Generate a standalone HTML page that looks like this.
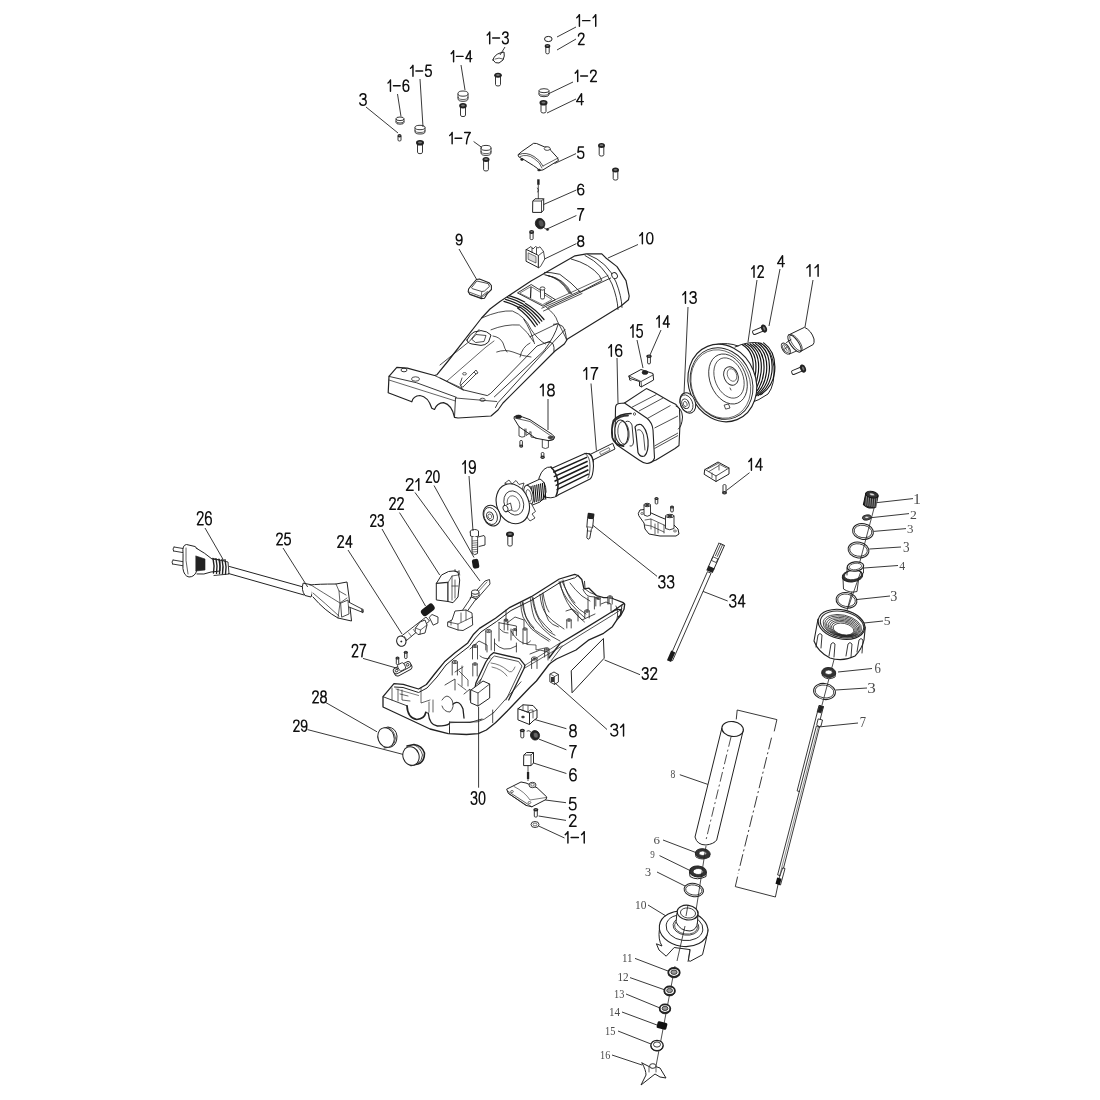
<!DOCTYPE html><html><head><meta charset="utf-8"><style>html,body{margin:0;padding:0;background:#fff;}svg{display:block}</style></head><body>
<svg width="1100" height="1100" viewBox="0 0 1100 1100">
<rect width="1100" height="1100" fill="#fff"/>
<path d="M396.0,118.8 L396.0,122.4 A4.0,1.8 0 0 0 404.0,122.4 L404.0,118.8" fill="#fff" stroke="#222" stroke-width="0.9"/>
<ellipse cx="400.0" cy="118.8" rx="4.0" ry="1.8" fill="#fff" stroke="#222" stroke-width="0.9"/>
<path d="M396.0,121.1 A4.0,1.8 0 0 0 404.0,121.1" fill="none" stroke="#222" stroke-width="0.7"/>
<g>
<path d="M398.0,136.1 L398.0,140.1 A1.5,0.9 0 0 0 401.0,140.1 L401.0,136.1" fill="#fff" stroke="#222" stroke-width="0.9"/>
<ellipse cx="399.5" cy="135.8" rx="2.0" ry="1.8" fill="#222"/>
<ellipse cx="399.5" cy="135.6" rx="1.0" ry="0.6" fill="#777"/>
</g>
<path d="M415.0,127.5 L415.0,131.8 A5.0,2.2 0 0 0 425.0,131.8 L425.0,127.5" fill="#fff" stroke="#222" stroke-width="0.9"/>
<ellipse cx="420.0" cy="127.5" rx="5.0" ry="2.2" fill="#fff" stroke="#222" stroke-width="0.9"/>
<path d="M415.0,130.3 A5.0,2.2 0 0 0 425.0,130.3" fill="none" stroke="#222" stroke-width="0.7"/>
<g>
<path d="M417.5,143.3 L417.5,152.2 A2.5,1.5 0 0 0 422.5,152.2 L422.5,143.3" fill="#fff" stroke="#222" stroke-width="0.9"/>
<ellipse cx="420" cy="142.8" rx="4.0" ry="2.8" fill="#222"/>
<ellipse cx="420" cy="142.5" rx="2.0" ry="1.0" fill="#777"/>
</g>
<path d="M458.0,93.6 L458.0,98.7 A5.0,2.6 0 0 0 468.0,98.7 L468.0,93.6" fill="#fff" stroke="#222" stroke-width="0.9"/>
<ellipse cx="463.0" cy="93.6" rx="5.0" ry="2.6" fill="#fff" stroke="#222" stroke-width="0.9"/>
<path d="M458.0,96.9 A5.0,2.6 0 0 0 468.0,96.9" fill="none" stroke="#222" stroke-width="0.7"/>
<g>
<path d="M460.5,106.2 L460.5,115.1 A2.5,1.5 0 0 0 465.5,115.1 L465.5,106.2" fill="#fff" stroke="#222" stroke-width="0.9"/>
<ellipse cx="463" cy="105.7" rx="3.8" ry="2.7" fill="#222"/>
<ellipse cx="463" cy="105.4" rx="1.9" ry="1.0" fill="#777"/>
</g>
<path d="M493,60 Q494,55 500,53 L504,52 Q505,56 503,60 L499,63 Q495,64 493,60 Z" fill="#fff" stroke="#222" stroke-width="1.0" stroke-linejoin="round" stroke-linecap="round" />
<path d="M495,59 Q499,57 503,59" fill="none" stroke="#222" stroke-width="0.7" stroke-linejoin="round" stroke-linecap="round" />
<g>
<path d="M495.5,75.7 L495.5,84.5 A2.5,1.5 0 0 0 500.5,84.5 L500.5,75.7" fill="#fff" stroke="#222" stroke-width="0.9"/>
<ellipse cx="498" cy="75.2" rx="3.8" ry="2.5" fill="#222"/>
<ellipse cx="498" cy="75.0" rx="1.9" ry="0.9" fill="#777"/>
</g>
<path d="M481.0,147.9 L481.0,152.9 A5.0,2.5 0 0 0 491.0,152.9 L491.0,147.9" fill="#fff" stroke="#222" stroke-width="0.9"/>
<ellipse cx="486.0" cy="147.9" rx="5.0" ry="2.5" fill="#fff" stroke="#222" stroke-width="0.9"/>
<path d="M481.0,151.1 A5.0,2.5 0 0 0 491.0,151.1" fill="none" stroke="#222" stroke-width="0.7"/>
<g>
<path d="M483.6,160.0 L483.6,169.6 A2.4,1.4 0 0 0 488.4,169.6 L488.4,160.0" fill="#fff" stroke="#222" stroke-width="0.9"/>
<ellipse cx="486" cy="159.5" rx="3.5" ry="2.5" fill="#222"/>
<ellipse cx="486" cy="159.2" rx="1.8" ry="0.9" fill="#777"/>
</g>
<ellipse cx="548.3" cy="39.0" rx="3.8" ry="2.6" transform="rotate(0 548.3 39.0)" fill="#fff" stroke="#222" stroke-width="1.0"/>
<g>
<path d="M545.8,46.4 L545.8,52.8 A1.7,1.0 0 0 0 549.2,52.8 L549.2,46.4" fill="#fff" stroke="#222" stroke-width="0.9"/>
<ellipse cx="547.5" cy="46.0" rx="2.8" ry="2.0" fill="#222"/>
<ellipse cx="547.5" cy="45.8" rx="1.4" ry="0.7" fill="#777"/>
</g>
<path d="M539.0,90.7 L539.0,94.7 A5.0,2.0 0 0 0 549.0,94.7 L549.0,90.7" fill="#fff" stroke="#222" stroke-width="0.9"/>
<ellipse cx="544.0" cy="90.7" rx="5.0" ry="2.0" fill="#fff" stroke="#222" stroke-width="0.9"/>
<path d="M539.0,93.3 A5.0,2.0 0 0 0 549.0,93.3" fill="none" stroke="#222" stroke-width="0.7"/>
<g>
<path d="M541.0,103.3 L541.0,111.5 A2.5,1.5 0 0 0 546.0,111.5 L546.0,103.3" fill="#fff" stroke="#222" stroke-width="0.9"/>
<ellipse cx="543.5" cy="102.8" rx="4.0" ry="2.8" fill="#222"/>
<ellipse cx="543.5" cy="102.5" rx="2.0" ry="1.0" fill="#777"/>
</g>
<g>
<path d="M599.2,146.0 L599.2,154.7 A2.3,1.4 0 0 0 603.8,154.7 L603.8,146.0" fill="#fff" stroke="#222" stroke-width="0.9"/>
<ellipse cx="601.5" cy="145.5" rx="3.5" ry="2.5" fill="#222"/>
<ellipse cx="601.5" cy="145.2" rx="1.8" ry="0.9" fill="#777"/>
</g>
<g>
<path d="M613.2,170.5 L613.2,178.7 A2.3,1.4 0 0 0 617.8,178.7 L617.8,170.5" fill="#fff" stroke="#222" stroke-width="0.9"/>
<ellipse cx="615.5" cy="170.0" rx="3.5" ry="2.5" fill="#222"/>
<ellipse cx="615.5" cy="169.8" rx="1.8" ry="0.9" fill="#777"/>
</g>
<path d="M396.8,367.3 L407.3,368.2 L434.5,375.5 L437,374.7 L448.5,360.5 L481.6,318 L490,309 L500,301.5 L531,281 L575,255.8 L586.5,253.9 L601.8,253.9 L605.6,257.7 L617,266.6 L626,280.6 L629.2,296 L628.5,299.7 L621,306 L567.5,339 L564.3,344 L555,351 L503,403 L498,410 L491,416 L458,418 L454.5,417.3 Q452,405 443.6,402.7 Q437,403 434.5,409.5 L431.8,408.2 Q428,396.5 420,395.5 Q413,396 411.8,401.8 L388.2,392.7 L389,376.4 Z" fill="#fff" stroke="#222" stroke-width="1.2" stroke-linejoin="round" stroke-linecap="round" />
<path d="M587.8,254.5 Q608,262 616,282 Q621.5,296 622,307.4" fill="none" stroke="#222" stroke-width="0.9" stroke-linejoin="round" stroke-linecap="round" />
<path d="M585,255.5 Q604,265 612,284 Q617.5,298 618,309.5" fill="none" stroke="#222" stroke-width="0.9" stroke-linejoin="round" stroke-linecap="round" />
<ellipse cx="614.6" cy="275.6" rx="2.6" ry="3.2" transform="rotate(-30 614.6 275.6)" fill="#fff" stroke="#222" stroke-width="0.9"/>
<path d="M571.3,259 Q590,264 599.3,275.5 L601.8,280.6 L580.2,292 Q572,283 559.8,274.3 Q550,272 544.5,272.4" fill="none" stroke="#222" stroke-width="0.9" stroke-linejoin="round" stroke-linecap="round" />
<path d="M548,307.4 L610.7,278" fill="none" stroke="#222" stroke-width="0.9" stroke-linejoin="round" stroke-linecap="round" />
<path d="M546,304 L608,275.5" fill="none" stroke="#222" stroke-width="0.7" stroke-linejoin="round" stroke-linecap="round" />
<path d="M544.0,274.5 Q560.0,277.0 569.0,293.0" fill="none" stroke="#222" stroke-width="0.7" stroke-linejoin="round" stroke-linecap="round" />
<path d="M545.6,274.98 Q561.6,277.48 569.96,293.32" fill="none" stroke="#222" stroke-width="0.7" stroke-linejoin="round" stroke-linecap="round" />
<path d="M547.2,275.46 Q563.2,277.96 570.92,293.64" fill="none" stroke="#222" stroke-width="0.7" stroke-linejoin="round" stroke-linecap="round" />
<path d="M548.8,275.94 Q564.8,278.44 571.88,293.96" fill="none" stroke="#222" stroke-width="0.7" stroke-linejoin="round" stroke-linecap="round" />
<path d="M517.8,292.7 L531.2,284.5 L555.4,299.7 L543.3,306.0 Z" fill="none" stroke="#222" stroke-width="0.9" stroke-linejoin="round" stroke-linecap="round" />
<path d="M520.0,293.0 L531.0,286.5 L552.0,299.5 L543.0,304.5 Z" fill="none" stroke="#222" stroke-width="0.6" stroke-linejoin="round" stroke-linecap="round" />
<line x1="531.0" y1="287.0" x2="530.5" y2="298.0" stroke="#222" stroke-width="1.2"/>
<rect x="540.5" y="288" width="4" height="11" rx="1.5" fill="#fff" stroke="#222" stroke-width="0.8"/>
<ellipse cx="542.5" cy="288.5" rx="2.5" ry="1.6" transform="rotate(0 542.5 288.5)" fill="#fff" stroke="#222" stroke-width="0.8"/>
<path d="M509.0,295.6 Q517.0,297.8 524.7,302.0" fill="none" stroke="#1a1a1a" stroke-width="1.25" stroke-linejoin="round" stroke-linecap="round" />
<path d="M507.3,297.5 Q515.2,299.7 522.9,303.9" fill="none" stroke="#1a1a1a" stroke-width="1.25" stroke-linejoin="round" stroke-linecap="round" />
<path d="M505.6,299.4 Q513.5,301.6 521.1,305.7" fill="none" stroke="#1a1a1a" stroke-width="1.25" stroke-linejoin="round" stroke-linecap="round" />
<path d="M503.9,301.3 Q511.8,303.5 519.3,307.6" fill="none" stroke="#1a1a1a" stroke-width="1.25" stroke-linejoin="round" stroke-linecap="round" />
<path d="M525.6,303.5 Q536.0,309.5 544.0,319.5" fill="none" stroke="#1a1a1a" stroke-width="1.25" stroke-linejoin="round" stroke-linecap="round" />
<path d="M523.6,304.6 Q533.9,310.8 541.8,321.2" fill="none" stroke="#1a1a1a" stroke-width="1.25" stroke-linejoin="round" stroke-linecap="round" />
<path d="M521.6,305.7 Q531.8,312.1 539.6,323.0" fill="none" stroke="#1a1a1a" stroke-width="1.25" stroke-linejoin="round" stroke-linecap="round" />
<path d="M519.6,306.8 Q529.7,313.4 537.4,324.8" fill="none" stroke="#1a1a1a" stroke-width="1.25" stroke-linejoin="round" stroke-linecap="round" />
<path d="M517.6,307.9 Q527.6,314.7 535.2,326.5" fill="none" stroke="#1a1a1a" stroke-width="1.25" stroke-linejoin="round" stroke-linecap="round" />
<path d="M541.8,308.2 L580,291 M543.5,311 L582,293.5" fill="none" stroke="#222" stroke-width="0.8" stroke-linejoin="round" stroke-linecap="round" />
<path d="M523.6,319 Q531,330 534.5,343.6 M546.4,307.3 Q556,315 557.3,321 Q562,330 566.4,339" fill="none" stroke="#222" stroke-width="0.8" stroke-linejoin="round" stroke-linecap="round" />
<path d="M565,329.5 L546.4,349.5 L498,402.7 L495.5,407.5" fill="none" stroke="#222" stroke-width="0.9" stroke-linejoin="round" stroke-linecap="round" />
<path d="M558,324.7 Q555,336 544,350.7 L494.4,396.8" fill="none" stroke="#222" stroke-width="0.9" stroke-linejoin="round" stroke-linecap="round" />
<path d="M550,341.3 L537,346 L490.8,393.3 L487.3,395.6 L462.5,389.7 L440,378" fill="none" stroke="#222" stroke-width="0.9" stroke-linejoin="round" stroke-linecap="round" />
<path d="M462.5,389.7 L460,384 L462,378" fill="none" stroke="#222" stroke-width="0.8" stroke-linejoin="round" stroke-linecap="round" />
<path d="M496.7,352 Q505,349 513,352 L522.7,355.5 L531,357" fill="none" stroke="#222" stroke-width="0.8" stroke-linejoin="round" stroke-linecap="round" />
<path d="M553.5,324.2 Q558,322.5 562.7,326.4 Q566,331 566.5,340.5" fill="none" stroke="#222" stroke-width="0.9" stroke-linejoin="round" stroke-linecap="round" />
<path d="M545.8,342.7 Q550.2,340.5 553,343.8 Q554.5,347 554,351.5" fill="none" stroke="#222" stroke-width="0.9" stroke-linejoin="round" stroke-linecap="round" />
<path d="M530,336.7 L557.3,323.6" fill="none" stroke="#222" stroke-width="0.8" stroke-linejoin="round" stroke-linecap="round" />
<path d="M455.4,398 L496.7,401.5" fill="none" stroke="#222" stroke-width="0.8" stroke-linejoin="round" stroke-linecap="round" />
<path d="M440,365 L469.5,341.3 L479,329.5" fill="none" stroke="#222" stroke-width="0.8" stroke-linejoin="round" stroke-linecap="round" />
<path d="M447,381 L486,347 L494,341" fill="none" stroke="#222" stroke-width="0.7" stroke-linejoin="round" stroke-linecap="round" />
<path d="M481.6,318 Q500,310 512.4,311 Q525,316 531.3,329.8 Q538,340 545.5,344" fill="none" stroke="#222" stroke-width="0.8" stroke-linejoin="round" stroke-linecap="round" />
<path d="M491,329.8 Q505,324 519.4,325 Q528,332 533.6,341.7" fill="none" stroke="#222" stroke-width="0.8" stroke-linejoin="round" stroke-linecap="round" />
<path d="M493,336 Q500,337 503,343 Q505,350 507,352" fill="none" stroke="#222" stroke-width="0.8" stroke-linejoin="round" stroke-linecap="round" />
<path d="M520,357 Q522,347 530,343" fill="none" stroke="#222" stroke-width="0.8" stroke-linejoin="round" stroke-linecap="round" />
<path d="M467,340 Q470,334 474,332 L481,330.6 Q487,331 491,335 L488.5,342 Q485,345.5 481,345.4 L472,344 Q467,343 467,340 Z" fill="none" stroke="#222" stroke-width="1.0" stroke-linejoin="round" stroke-linecap="round" />
<path d="M472,339 L476,334.5 L486,335.5 L484,341.5 L476,342.5 Z" fill="none" stroke="#222" stroke-width="0.8" stroke-linejoin="round" stroke-linecap="round" />
<ellipse cx="482.5" cy="399.8" rx="2.6" ry="1.6" transform="rotate(0 482.5 399.8)" fill="none" stroke="#222" stroke-width="0.8"/>
<ellipse cx="464.5" cy="373.8" rx="2.0" ry="1.2" transform="rotate(0 464.5 373.8)" fill="none" stroke="#222" stroke-width="0.7"/>
<path d="M389,376.4 L416.4,382.7 L456.4,397.3" fill="none" stroke="#222" stroke-width="0.9" stroke-linejoin="round" stroke-linecap="round" />
<path d="M389,380 L455.5,401" fill="none" stroke="#222" stroke-width="0.7" stroke-linejoin="round" stroke-linecap="round" />
<path d="M455.5,398 L454.5,417.3" fill="none" stroke="#222" stroke-width="0.9" stroke-linejoin="round" stroke-linecap="round" />
<path d="M434.5,375.5 L460,387.3 L463.6,390" fill="none" stroke="#222" stroke-width="0.8" stroke-linejoin="round" stroke-linecap="round" />
<ellipse cx="404.0" cy="370.0" rx="3.0" ry="1.8" transform="rotate(0 404.0 370.0)" fill="none" stroke="#222" stroke-width="0.9"/>
<ellipse cx="415.5" cy="379.0" rx="4.0" ry="2.2" transform="rotate(0 415.5 379.0)" fill="none" stroke="#222" stroke-width="0.8"/>
<path d="M461,385 L474,372 L476,374 L463,387 Z" fill="none" stroke="#222" stroke-width="0.8" stroke-linejoin="round" stroke-linecap="round" />
<path d="M474,372 L476,370 L478,373 L476,374" fill="none" stroke="#222" stroke-width="0.8" stroke-linejoin="round" stroke-linecap="round" />
<path d="M518.3,154.5 L521.8,151.5 L533.6,143.3 L536.6,143.5 L544.3,146.8 L549.0,147.4 L550.8,150.4 L557.3,157.5 L558.5,160.4 L543.0,169.9 L539.5,170.5 L537.8,168.7 L533.6,165.7 L524.2,159.8 L521.8,158.6 L518.9,156.9 Z" fill="#fff" stroke="#222" stroke-width="1.0" stroke-linejoin="round" stroke-linecap="round" />
<path d="M519,154.5 Q526,151.5 534,156.5 Q540,160 543,166" fill="none" stroke="#222" stroke-width="0.8" stroke-linejoin="round" stroke-linecap="round" />
<path d="M520,156.5 Q527,153.5 534,158.5 Q540,162 542,168" fill="none" stroke="#222" stroke-width="0.7" stroke-linejoin="round" stroke-linecap="round" />
<path d="M543,166 L558,158" fill="none" stroke="#222" stroke-width="0.7" stroke-linejoin="round" stroke-linecap="round" />
<ellipse cx="547.2" cy="148.6" rx="3.0" ry="1.8" transform="rotate(0 547.2 148.6)" fill="#fff" stroke="#222" stroke-width="0.8"/>
<ellipse cx="522.0" cy="159.5" rx="1.5" ry="1.0" transform="rotate(0 522.0 159.5)" fill="#222" stroke="#222" stroke-width="0.5"/>
<ellipse cx="539.0" cy="170.0" rx="1.5" ry="1.0" transform="rotate(0 539.0 170.0)" fill="#222" stroke="#222" stroke-width="0.5"/>
<path d="M533.0,201.0 L535.0,198.8 L543.7,198.8 L543.7,210.0 L541.5,212.4 L533.0,212.4 Z" fill="#fff" stroke="#222" stroke-width="1.0" stroke-linejoin="round" stroke-linecap="round" />
<path d="M533,201 L541.5,201 L543.7,198.8 M541.5,201 L541.5,212.4" fill="none" stroke="#222" stroke-width="0.8" stroke-linejoin="round" stroke-linecap="round" />
<line x1="538.3" y1="184.5" x2="538.3" y2="199.0" stroke="#222" stroke-width="0.8"/>
<rect x="537.2" y="179.3" width="2.4" height="5.5" fill="#222"/>
<path d="M537.5,188 Q539.5,190 537.8,192" fill="none" stroke="#222" stroke-width="0.8" stroke-linejoin="round" stroke-linecap="round" />
<ellipse cx="540.1" cy="223.6" rx="4.7" ry="5.3" transform="rotate(-20 540.1 223.6)" fill="#222" stroke="#222" stroke-width="0.8"/>
<ellipse cx="541.2" cy="223.4" rx="2.6" ry="3.6" transform="rotate(-20 541.2 223.4)" fill="#555" stroke="#222" stroke-width="0.5"/>
<path d="M543,227 Q545,229 547.8,229.5" fill="none" stroke="#222" stroke-width="0.9" stroke-linejoin="round" stroke-linecap="round" />
<ellipse cx="547.5" cy="229.5" rx="1.2" ry="1.0" transform="rotate(0 547.5 229.5)" fill="#222" stroke="#222" stroke-width="0.5"/>
<g>
<path d="M530.1,232.4 L530.1,238.7 A1.5,0.9 0 0 0 533.1,238.7 L533.1,232.4" fill="#fff" stroke="#222" stroke-width="0.9"/>
<ellipse cx="531.6" cy="232.0" rx="2.5" ry="2.0" fill="#222"/>
<ellipse cx="531.6" cy="231.8" rx="1.2" ry="0.7" fill="#777"/>
</g>
<path d="M526.4,249.5 L538.6,255.5 L538.6,267.7 L526.4,261.4 Z" fill="#fff" stroke="#222" stroke-width="1.0" stroke-linejoin="round" stroke-linecap="round" />
<path d="M538.6,255.5 L543.5,251.5 L544.8,259.0 L540.5,266.5 L538.6,267.7 Z" fill="#fff" stroke="#222" stroke-width="0.8" stroke-linejoin="round" stroke-linecap="round" />
<path d="M526.4,249.5 L531,246.5 L533,249 L535.5,246.5 L538,248 L540,246.8 L543.5,251.5 M532,248 L532,252.5 M536.5,248 L536.5,254" fill="none" stroke="#222" stroke-width="0.8" stroke-linejoin="round" stroke-linecap="round" />
<path d="M528.5,253 L536,256.5 L536,263 L528.5,259.5 Z" fill="#999" stroke="#222" stroke-width="0.6" stroke-linejoin="round" stroke-linecap="round" fill-opacity="0.35"/>
<path d="M468.6,289.0 L470.9,286.0 L476.4,279.5 L479.5,279.0 L489.0,282.7 L491.4,285.5 L491.4,289.5 L487.3,293.6 L484.5,298.2 L481.0,298.6 L470.0,294.5 L468.2,291.8 Z" fill="#fff" stroke="#222" stroke-width="1.1" stroke-linejoin="round" stroke-linecap="round" />
<path d="M471.8,287.3 L476.8,281.0 L488.2,283.6 L489.5,286.4 L484.5,291.0 L481.8,291.5 L472.7,288.8 Z" fill="none" stroke="#222" stroke-width="0.8" stroke-linejoin="round" stroke-linecap="round" />
<path d="M469,292 L481,296.5 L487.5,291.5 M469.5,294 L481,298 L488,292.5" fill="none" stroke="#222" stroke-width="0.7" stroke-linejoin="round" stroke-linecap="round" />
<line x1="481.8" y1="291.5" x2="481.0" y2="298.2" stroke="#222" stroke-width="0.7"/>
<path d="M735,347 Q748,341 760,343 Q772,348 774,367 Q775,385 768,394 Q760,400 748,404" fill="#fff" stroke="#222" stroke-width="1.0" stroke-linejoin="round" stroke-linecap="round" />
<path d="M742.0,344.5 Q755.0,352.0 753.0,372.0 Q751.0,392.0 739.0,402.0" fill="none" stroke="#111" stroke-width="1.15" stroke-linejoin="round" stroke-linecap="round" />
<path d="M744.7,344.3 Q757.7,352.0 755.7,372.0 Q753.7,391.4 741.7,401.1" fill="none" stroke="#111" stroke-width="1.15" stroke-linejoin="round" stroke-linecap="round" />
<path d="M747.4,344.1 Q760.4,352.0 758.4,372.0 Q756.4,390.8 744.4,400.2" fill="none" stroke="#111" stroke-width="1.15" stroke-linejoin="round" stroke-linecap="round" />
<path d="M750.1,343.9 Q763.1,352.0 761.1,372.0 Q759.1,390.2 747.1,399.3" fill="none" stroke="#111" stroke-width="1.15" stroke-linejoin="round" stroke-linecap="round" />
<path d="M752.8,343.7 Q765.8,352.0 763.8,372.0 Q761.8,389.6 749.8,398.4" fill="none" stroke="#111" stroke-width="1.15" stroke-linejoin="round" stroke-linecap="round" />
<path d="M755.5,343.5 Q768.5,352.0 766.5,372.0 Q764.5,389.0 752.5,397.5" fill="none" stroke="#111" stroke-width="1.15" stroke-linejoin="round" stroke-linecap="round" />
<path d="M758.2,343.3 Q771.2,352.0 769.2,372.0 Q767.2,388.4 755.2,396.6" fill="none" stroke="#111" stroke-width="1.15" stroke-linejoin="round" stroke-linecap="round" />
<path d="M760.9,343.1 Q773.9,352.0 771.9,372.0 Q769.9,387.8 757.9,395.7" fill="none" stroke="#111" stroke-width="1.15" stroke-linejoin="round" stroke-linecap="round" />
<path d="M763.6,342.9 Q776.6,352.0 774.6,372.0 Q772.6,387.2 760.6,394.8" fill="none" stroke="#111" stroke-width="1.15" stroke-linejoin="round" stroke-linecap="round" />
<path d="M716,344.5 Q728,342 738,346" fill="none" stroke="#222" stroke-width="1.0" stroke-linejoin="round" stroke-linecap="round" />
<ellipse cx="722.3" cy="383.0" rx="33.5" ry="39.5" transform="rotate(-22 722.3 383.0)" fill="#fff" stroke="#222" stroke-width="1.1"/>
<ellipse cx="721.5" cy="383.5" rx="30.5" ry="36.5" transform="rotate(-22 721.5 383.5)" fill="none" stroke="#222" stroke-width="0.9"/>
<ellipse cx="720.8" cy="384.0" rx="29.0" ry="35.0" transform="rotate(-22 720.8 384.0)" fill="none" stroke="#222" stroke-width="0.6"/>
<ellipse cx="728.0" cy="379.0" rx="18.0" ry="26.0" transform="rotate(-22 728.0 379.0)" fill="none" stroke="#222" stroke-width="0.8"/>
<ellipse cx="729.0" cy="378.0" rx="14.0" ry="21.0" transform="rotate(-22 729.0 378.0)" fill="none" stroke="#222" stroke-width="0.7"/>
<ellipse cx="731.0" cy="376.0" rx="7.0" ry="9.5" transform="rotate(-22 731.0 376.0)" fill="none" stroke="#222" stroke-width="0.9"/>
<ellipse cx="732.0" cy="375.0" rx="4.5" ry="6.5" transform="rotate(-22 732.0 375.0)" fill="none" stroke="#222" stroke-width="0.6"/>
<path d="M724.5,405.0 L728.5,404.0 L730.0,408.0 L726.0,409.0 Z" fill="none" stroke="#222" stroke-width="0.8" stroke-linejoin="round" stroke-linecap="round" />
<path d="M730,388 L731,390" fill="none" stroke="#222" stroke-width="0.8" stroke-linejoin="round" stroke-linecap="round" />
<ellipse cx="687.8" cy="403.0" rx="7.5" ry="10.5" transform="rotate(-22 687.8 403.0)" fill="#fff" stroke="#222" stroke-width="1.0"/>
<ellipse cx="686.5" cy="403.5" rx="6.0" ry="9.0" transform="rotate(-22 686.5 403.5)" fill="none" stroke="#222" stroke-width="0.8"/>
<ellipse cx="685.5" cy="403.8" rx="3.5" ry="5.0" transform="rotate(-22 685.5 403.8)" fill="#fff" stroke="#222" stroke-width="0.9"/>
<ellipse cx="685.2" cy="404.0" rx="1.8" ry="2.6" transform="rotate(-22 685.2 404.0)" fill="none" stroke="#222" stroke-width="0.7"/>
<g transform="rotate(68 766.5 327.5)">
<path d="M764.4,330.8 L764.4,340.9 A2.1,1.3 0 0 0 768.6,340.9 L768.6,330.8" fill="#fff" stroke="#222" stroke-width="0.9"/>
<ellipse cx="766.5" cy="330.2" rx="4.2" ry="2.8" fill="#222"/>
<ellipse cx="766.5" cy="330.0" rx="2.1" ry="1.0" fill="#777"/>
</g>
<g transform="rotate(68 805.5 367.5)">
<path d="M803.4,370.8 L803.4,380.9 A2.1,1.3 0 0 0 807.6,380.9 L807.6,370.8" fill="#fff" stroke="#222" stroke-width="0.9"/>
<ellipse cx="805.5" cy="370.2" rx="4.2" ry="2.8" fill="#222"/>
<ellipse cx="805.5" cy="370.0" rx="2.1" ry="1.0" fill="#777"/>
</g>
<path d="M788.6,335 L804.5,327.3 Q811.4,330.5 814,339 Q814.5,343 813.2,344.5 L800.5,351.5" fill="#fff" stroke="#222" stroke-width="1.0" stroke-linejoin="round" stroke-linecap="round" />
<ellipse cx="794.5" cy="343.4" rx="3.9" ry="10.3" transform="rotate(-35 794.5 343.4)" fill="#fff" stroke="#222" stroke-width="1.0"/>
<ellipse cx="796.0" cy="342.8" rx="3.6" ry="9.6" transform="rotate(-35 796.0 342.8)" fill="none" stroke="#222" stroke-width="0.7"/>
<path d="M786.5,342.5 L791,339.5 M789.5,354 L796.5,351" fill="none" stroke="#222" stroke-width="0.9" stroke-linejoin="round" stroke-linecap="round" />
<ellipse cx="785.8" cy="348.6" rx="3.3" ry="6.3" transform="rotate(-35 785.8 348.6)" fill="#fff" stroke="#222" stroke-width="1.0"/>
<ellipse cx="785.8" cy="348.6" rx="2.2" ry="4.5" transform="rotate(-35 785.8 348.6)" fill="none" stroke="#222" stroke-width="0.7"/>
<path d="M784.5,346.5 L787,350.5 M783.8,349.5 L787.5,347" fill="none" stroke="#222" stroke-width="0.7" stroke-linejoin="round" stroke-linecap="round" />
<path d="M629.0,376.0 L641.0,369.5 L653.0,373.5 L653.6,380.0 L641.5,386.8 L639.5,386.0 L639.5,381.5 L630.0,378.5 Z" fill="#fff" stroke="#222" stroke-width="1.0" stroke-linejoin="round" stroke-linecap="round" />
<path d="M629,376 L641,381.5 L653,375 M641,381.5 L641.5,386.8" fill="none" stroke="#222" stroke-width="0.8" stroke-linejoin="round" stroke-linecap="round" />
<ellipse cx="645.0" cy="372.5" rx="3.0" ry="2.0" transform="rotate(0 645.0 372.5)" fill="#222" stroke="#222" stroke-width="0.5"/>
<path d="M629.5,377 L629.5,380 L631,380.5" fill="none" stroke="#222" stroke-width="0.8" stroke-linejoin="round" stroke-linecap="round" />
<g>
<path d="M647.6,356.7 L647.6,363.1 A1.4,0.8 0 0 0 650.4,363.1 L650.4,356.7" fill="#fff" stroke="#222" stroke-width="0.9"/>
<ellipse cx="649" cy="356.3" rx="2.8" ry="1.8" fill="#222"/>
<ellipse cx="649" cy="356.1" rx="1.4" ry="0.6" fill="#777"/>
</g>
<path d="M624.5,403.0 L646.4,388.6 L654.5,392.5 L670.0,401.5 L676.0,404.5 L679.5,409.0 L680.0,424.0 L679.0,445.5 L675.0,448.5 L656.0,460.0 L647.0,463.5" fill="#fff" stroke="#222" stroke-width="1.1" stroke-linejoin="round" stroke-linecap="round" />
<line x1="631.8" y1="407.3" x2="656.4" y2="394.5" stroke="#222" stroke-width="0.8"/>
<line x1="639.0" y1="411.0" x2="663.0" y2="398.0" stroke="#222" stroke-width="0.8"/>
<line x1="647.3" y1="418.5" x2="670.5" y2="405.5" stroke="#222" stroke-width="0.8"/>
<line x1="654.5" y1="428.0" x2="678.0" y2="416.0" stroke="#222" stroke-width="0.8"/>
<line x1="654.5" y1="446.0" x2="678.0" y2="433.0" stroke="#222" stroke-width="0.8"/>
<line x1="654.5" y1="448.5" x2="678.0" y2="435.5" stroke="#222" stroke-width="0.8"/>
<path d="M615.5,408 Q615.5,404 619,403.5 L624.5,403 L647.3,418.5 Q652.5,423 653,430 L654.5,458 Q653,463 647,463.5 Q643,463 639,460 L617,445 Q615,443 615,438 Z" fill="#fff" stroke="#222" stroke-width="1.1" stroke-linejoin="round" stroke-linecap="round" />
<path d="M631,413.5 Q619,413.5 613.5,420.5 Q611,429 612.3,437.5 Q614.5,445 623.6,446.2" fill="none" stroke="#222" stroke-width="1.7" stroke-linejoin="round" stroke-linecap="round" />
<ellipse cx="621.5" cy="432.5" rx="6.6" ry="12.6" transform="rotate(-6 621.5 432.5)" fill="#fff" stroke="#222" stroke-width="1.1"/>
<ellipse cx="623.5" cy="432.8" rx="5.6" ry="11.4" transform="rotate(-6 623.5 432.8)" fill="none" stroke="#222" stroke-width="0.7"/>
<path d="M626,421.5 Q630,420 632,425 L633.5,442 Q633,447 630,446" fill="none" stroke="#222" stroke-width="0.9" stroke-linejoin="round" stroke-linecap="round" />
<path d="M635,427 Q637,423.5 641,424.5 Q646.5,428 648,440 Q648.8,452 644.5,456 Q640,457.5 638,452.5 L636,433 Q635.5,429 635,427 Z" fill="#fff" stroke="#222" stroke-width="1.2" stroke-linejoin="round" stroke-linecap="round" />
<path d="M637.5,430 Q641,428 643.5,435 L645,450" fill="none" stroke="#222" stroke-width="0.8" stroke-linejoin="round" stroke-linecap="round" />
<ellipse cx="634.5" cy="414.0" rx="1.1" ry="1.3" transform="rotate(0 634.5 414.0)" fill="none" stroke="#222" stroke-width="0.7"/>
<path d="M614,421 Q620,415.5 628,415.5" fill="none" stroke="#333" stroke-width="1.8" stroke-linejoin="round" stroke-linecap="round" />
<path d="M676,406 Q682,408 682.5,417 Q682,426 678.5,429" fill="none" stroke="#222" stroke-width="1.0" stroke-linejoin="round" stroke-linecap="round" />
<path d="M588,455.5 L612.7,443.3 L615,449 L591,461 Z" fill="#fff" stroke="#222" stroke-width="1.0" stroke-linejoin="round" stroke-linecap="round" />
<path d="M600,452 L609,447.6 L610,450 L601,454.5 Z" fill="none" stroke="#222" stroke-width="0.6" stroke-linejoin="round" stroke-linecap="round" />
<ellipse cx="590.0" cy="458.5" rx="2.6" ry="5.2" transform="rotate(-25 590.0 458.5)" fill="#fff" stroke="#222" stroke-width="0.9"/>
<path d="M548,470 L585,453.5 Q593,452 593.5,466 Q593,477 590,479 L557,495.5" fill="#fff" stroke="#222" stroke-width="1.1" stroke-linejoin="round" stroke-linecap="round" />
<line x1="553.2" y1="472.3" x2="587.2" y2="457.1" stroke="#1a1a1a" stroke-width="1.5"/>
<line x1="553.6" y1="476.9" x2="587.6" y2="461.3" stroke="#1a1a1a" stroke-width="1.5"/>
<line x1="554.0" y1="481.5" x2="588.0" y2="465.5" stroke="#1a1a1a" stroke-width="1.5"/>
<line x1="554.4" y1="486.1" x2="588.4" y2="469.7" stroke="#1a1a1a" stroke-width="1.5"/>
<line x1="554.8" y1="490.7" x2="588.8" y2="473.9" stroke="#1a1a1a" stroke-width="1.5"/>
<path d="M585,453.5 Q590,456 590,466 Q590,475 588,478" fill="none" stroke="#222" stroke-width="0.8" stroke-linejoin="round" stroke-linecap="round" />
<path d="M551,467 Q543,466 539,478 Q537,490 543,496 Q551,500 558,495.5" fill="#fff" stroke="#222" stroke-width="1.0" stroke-linejoin="round" stroke-linecap="round" />
<path d="M551,467 Q558,474 558,485 Q558,492 556,496" fill="none" stroke="#222" stroke-width="1.6" stroke-linejoin="round" stroke-linecap="round" />
<path d="M527,485 L540,479 Q546,482 546,492 Q545,499 540,502 L530,506" fill="#fff" stroke="#222" stroke-width="1.0" stroke-linejoin="round" stroke-linecap="round" />
<line x1="531.0" y1="486.0" x2="532.5" y2="503.0" stroke="#111" stroke-width="1.1"/>
<line x1="532.9" y1="485.5" x2="534.4" y2="502.5" stroke="#111" stroke-width="1.1"/>
<line x1="534.8" y1="485.0" x2="536.3" y2="502.0" stroke="#111" stroke-width="1.1"/>
<line x1="536.7" y1="484.5" x2="538.2" y2="501.5" stroke="#111" stroke-width="1.1"/>
<line x1="538.6" y1="484.0" x2="540.1" y2="501.0" stroke="#111" stroke-width="1.1"/>
<line x1="540.5" y1="483.5" x2="542.0" y2="500.5" stroke="#111" stroke-width="1.1"/>
<line x1="542.4" y1="483.0" x2="543.9" y2="500.0" stroke="#111" stroke-width="1.1"/>
<line x1="544.3" y1="482.5" x2="545.8" y2="499.5" stroke="#111" stroke-width="1.1"/>
<ellipse cx="528.5" cy="495.0" rx="4.5" ry="10.0" transform="rotate(-12 528.5 495.0)" fill="#fff" stroke="#222" stroke-width="1.0"/>
<ellipse cx="528.8" cy="495.5" rx="2.5" ry="6.0" transform="rotate(-12 528.8 495.5)" fill="none" stroke="#222" stroke-width="0.7"/>
<path d="M505.0,483.0 L509.0,480.0 L512.0,484.0 L516.0,480.5 L519.0,484.5 L524.0,483.0 L522.0,490.0 Z" fill="#fff" stroke="#222" stroke-width="0.8" stroke-linejoin="round" stroke-linecap="round" />
<path d="M526.0,505.0 L531.0,503.0 L535.5,511.5 L532.0,514.0 L535.0,518.0 L530.0,521.0 L526.0,516.0 Z" fill="#fff" stroke="#222" stroke-width="0.8" stroke-linejoin="round" stroke-linecap="round" />
<ellipse cx="512.8" cy="503.8" rx="16.0" ry="20.5" transform="rotate(-22 512.8 503.8)" fill="#fff" stroke="#222" stroke-width="1.1"/>
<ellipse cx="513.8" cy="503.0" rx="9.5" ry="12.5" transform="rotate(-22 513.8 503.0)" fill="none" stroke="#222" stroke-width="0.8"/>
<ellipse cx="513.5" cy="503.5" rx="6.0" ry="8.0" transform="rotate(-22 513.5 503.5)" fill="none" stroke="#222" stroke-width="0.6"/>
<path d="M504.5,506 L510.5,503 L512,509.5 L506,512 Z" fill="#fff" stroke="#222" stroke-width="0.8" stroke-linejoin="round" stroke-linecap="round" />
<ellipse cx="505.5" cy="508.5" rx="2.3" ry="3.2" transform="rotate(-22 505.5 508.5)" fill="#fff" stroke="#222" stroke-width="0.9"/>
<ellipse cx="491.8" cy="515.6" rx="8.3" ry="10.6" transform="rotate(-22 491.8 515.6)" fill="#fff" stroke="#222" stroke-width="1.0"/>
<ellipse cx="490.6" cy="516.0" rx="6.5" ry="8.8" transform="rotate(-22 490.6 516.0)" fill="none" stroke="#222" stroke-width="0.8"/>
<ellipse cx="490.0" cy="516.2" rx="3.3" ry="4.4" transform="rotate(-22 490.0 516.2)" fill="none" stroke="#222" stroke-width="0.9"/>
<ellipse cx="489.8" cy="516.3" rx="1.8" ry="2.4" transform="rotate(-22 489.8 516.3)" fill="none" stroke="#222" stroke-width="0.6"/>
<g>
<path d="M507.8,534.8 L507.8,544.8 A2.2,1.3 0 0 0 512.2,544.8 L512.2,534.8" fill="#fff" stroke="#222" stroke-width="0.9"/>
<ellipse cx="510" cy="534.2" rx="4.0" ry="2.8" fill="#222"/>
<ellipse cx="510" cy="534.0" rx="2.0" ry="1.0" fill="#777"/>
</g>
<path d="M514.6,416.5 L519.0,415.3 L522.3,416.9 L530.0,419.7 L552.2,434.4 L554.4,436.9 L553.5,439.5 L549.0,440.7 L535.6,438.2 L519.0,426.7 L514.3,419.0 Z" fill="#fff" stroke="#222" stroke-width="1.0" stroke-linejoin="round" stroke-linecap="round" />
<path d="M514.5,418 L519,419 L530,421.5 L551,436 L554,437" fill="none" stroke="#222" stroke-width="0.7" stroke-linejoin="round" stroke-linecap="round" />
<ellipse cx="518.5" cy="416.8" rx="3.2" ry="1.8" transform="rotate(0 518.5 416.8)" fill="#222" stroke="#222" stroke-width="0.5"/>
<ellipse cx="550.5" cy="437.6" rx="2.5" ry="1.4" transform="rotate(0 550.5 437.6)" fill="#444" stroke="#222" stroke-width="0.5"/>
<path d="M519,426.7 L519,436 Q522,438 524.8,436.5 L524.8,429 M526,429 L526,435.5 L530,433 L530,431.5 M531,432 L531,437 L536,438" fill="none" stroke="#222" stroke-width="0.8" stroke-linejoin="round" stroke-linecap="round" />
<path d="M542.3,440 L542.3,447.5 Q545.5,449.5 548.4,447.5 L548.4,440.7" fill="none" stroke="#222" stroke-width="0.8" stroke-linejoin="round" stroke-linecap="round" />
<path d="M548.4,440.7 L553.5,439.5 L554.4,437" fill="none" stroke="#222" stroke-width="0.8" stroke-linejoin="round" stroke-linecap="round" />
<g transform="rotate(180 521.2 447.7)">
<path d="M520.0,449.7 L520.0,454.1 A1.2,0.8 0 0 0 522.5,454.1 L522.5,449.7" fill="#fff" stroke="#222" stroke-width="0.9"/>
<ellipse cx="521.2" cy="449.3" rx="2.0" ry="1.6" fill="#222"/>
<ellipse cx="521.2" cy="449.2" rx="1.0" ry="0.6" fill="#777"/>
</g>
<g transform="rotate(180 542.6 459)">
<path d="M541.3,461.1 L541.3,464.7 A1.3,0.8 0 0 0 543.9,464.7 L543.9,461.1" fill="#fff" stroke="#222" stroke-width="0.9"/>
<ellipse cx="542.6" cy="460.8" rx="2.1" ry="1.8" fill="#222"/>
<ellipse cx="542.6" cy="460.6" rx="1.1" ry="0.6" fill="#777"/>
</g>
<ellipse cx="474.4" cy="532.0" rx="4.2" ry="2.5" transform="rotate(0 474.4 532.0)" fill="#fff" stroke="#222" stroke-width="0.9"/>
<path d="M470.3,532 L470.5,536 Q474.5,538.5 478.5,536 L478.5,532" fill="#fff" stroke="#222" stroke-width="0.9" stroke-linejoin="round" stroke-linecap="round" />
<path d="M472,537 L472,553 Q474.5,556 477.5,553.5 L477.8,537" fill="#fff" stroke="#222" stroke-width="0.9" stroke-linejoin="round" stroke-linecap="round" />
<line x1="472.0" y1="541.0" x2="477.8" y2="540.5" stroke="#222" stroke-width="0.6"/>
<line x1="472.0" y1="543.2" x2="477.8" y2="542.7" stroke="#222" stroke-width="0.6"/>
<line x1="472.0" y1="545.4" x2="477.8" y2="544.9" stroke="#222" stroke-width="0.6"/>
<line x1="472.0" y1="547.6" x2="477.8" y2="547.1" stroke="#222" stroke-width="0.6"/>
<line x1="472.0" y1="549.8" x2="477.8" y2="549.3" stroke="#222" stroke-width="0.6"/>
<line x1="472.0" y1="552.0" x2="477.8" y2="551.5" stroke="#222" stroke-width="0.6"/>
<path d="M478,537 L484,535.5 L485,537 L485,545 L479,546.5" fill="#fff" stroke="#222" stroke-width="0.9" stroke-linejoin="round" stroke-linecap="round" />
<g transform="rotate(-10 475.6 563.7)"><rect x="472.3" y="559" width="6.6" height="9.5" rx="2.5" fill="#1a1a1a"/></g>
<path d="M436.7,583.0 L448.0,582.6 L448.0,601.5 L436.7,600.0 Z" fill="#fff" stroke="#222" stroke-width="1.0" stroke-linejoin="round" stroke-linecap="round" />
<path d="M436.7,583.0 L441.5,575.0 L448.5,571.5 L453.5,571.0 L458.0,572.0 L459.7,580.0 L458.0,597.0 L453.0,602.7 L448.0,601.5 L448.0,582.6 Z" fill="#fff" stroke="#222" stroke-width="1.0" stroke-linejoin="round" stroke-linecap="round" />
<path d="M448,582.6 L452,576 L458,575 M452,576 L452,600 M455,580 L455,598 M452,586 L458,586" fill="none" stroke="#222" stroke-width="0.7" stroke-linejoin="round" stroke-linecap="round" />
<path d="M454,571 L455,569.5 L456.5,572 M457.5,572.5 L459,570.5 L459.7,575" fill="none" stroke="#222" stroke-width="0.7" stroke-linejoin="round" stroke-linecap="round" />
<path d="M470,598 L485,581 L489.5,579.5 L490,584 L476,600" fill="#fff" stroke="#222" stroke-width="0.9" stroke-linejoin="round" stroke-linecap="round" />
<path d="M472,598.5 L487,582" fill="none" stroke="#222" stroke-width="0.6" stroke-linejoin="round" stroke-linecap="round" />
<path d="M471.5,592.1 L471.5,596.5 A3.8,2.2 0 0 0 479.0,596.5 L479.0,592.1" fill="#fff" stroke="#222" stroke-width="0.9"/>
<ellipse cx="475.2" cy="592.1" rx="3.8" ry="2.2" fill="#fff" stroke="#222" stroke-width="0.9"/>
<path d="M471.5,594.9 A3.8,2.2 0 0 0 479.0,594.9" fill="none" stroke="#222" stroke-width="0.7"/>
<path d="M462,611 L471.5,597 L476,599 L466,613" fill="#fff" stroke="#222" stroke-width="0.9" stroke-linejoin="round" stroke-linecap="round" />
<path d="M448.0,622.0 L452.0,620.0 L455.0,611.0 L466.0,610.0 L472.0,613.0 L472.7,625.0 L463.0,630.5 L458.0,630.0 L448.0,626.5 Z" fill="#fff" stroke="#222" stroke-width="0.9" stroke-linejoin="round" stroke-linecap="round" />
<path d="M448,622 L458,624 L458,630 M458,624 L472.5,617 M451,620.5 L451,625 M461,613 L461,622 M466,610 L466,620" fill="none" stroke="#222" stroke-width="0.7" stroke-linejoin="round" stroke-linecap="round" />
<g transform="rotate(-38 427.8 609.8)"><rect x="420.5" y="606" width="14.6" height="7.6" rx="3" fill="#1a1a1a"/></g>
<path d="M399,638 L426,617 L429.5,621 L403,643.5" fill="#fff" stroke="#222" stroke-width="0.9" stroke-linejoin="round" stroke-linecap="round" />
<line x1="404.0" y1="636.0" x2="407.0" y2="640.0" stroke="#222" stroke-width="0.6"/>
<line x1="408.5" y1="632.5" x2="411.5" y2="636.5" stroke="#222" stroke-width="0.6"/>
<line x1="413.0" y1="629.0" x2="416.0" y2="633.0" stroke="#222" stroke-width="0.6"/>
<line x1="417.5" y1="625.5" x2="420.5" y2="629.5" stroke="#222" stroke-width="0.6"/>
<line x1="422.0" y1="622.0" x2="425.0" y2="626.0" stroke="#222" stroke-width="0.6"/>
<ellipse cx="401.3" cy="641.2" rx="4.6" ry="5.2" transform="rotate(-20 401.3 641.2)" fill="#fff" stroke="#222" stroke-width="1.0"/>
<ellipse cx="401.3" cy="641.5" rx="0.8" ry="0.8" transform="rotate(0 401.3 641.5)" fill="#222" stroke="#222" stroke-width="0.3"/>
<path d="M415.5,628.0 L420.0,622.0 L425.0,620.0 L427.0,625.0 L425.0,633.0 L418.0,634.6 L415.5,632.0 Z" fill="#fff" stroke="#222" stroke-width="0.9" stroke-linejoin="round" stroke-linecap="round" />
<path d="M415.5,628 L420.5,630 L427,625 M420.5,630 L420,634.4" fill="none" stroke="#222" stroke-width="0.7" stroke-linejoin="round" stroke-linecap="round" />
<path d="M429.5,617.0 L432.0,614.5 L438.0,617.0 L437.9,623.0 L433.5,625.0 Z" fill="#fff" stroke="#222" stroke-width="0.9" stroke-linejoin="round" stroke-linecap="round" />
<path d="M174,547 L186,549 M173.5,551 L185.5,553 M174,547 Q172,549 173.5,551" fill="none" stroke="#222" stroke-width="0.9" stroke-linejoin="round" stroke-linecap="round" />
<path d="M173,560 L185,562 M172.5,564 L184.5,566 M173,560 Q171,562 172.5,564" fill="none" stroke="#222" stroke-width="0.9" stroke-linejoin="round" stroke-linecap="round" />
<path d="M183,553 Q182,545 186.5,544.5 L195,546.5 Q199,549 198,556 L197,570 Q195,577 189,577 Q184,576 183,569 Z" fill="#fff" stroke="#222" stroke-width="1.0" stroke-linejoin="round" stroke-linecap="round" />
<path d="M186,548 Q185,560 188,574" fill="none" stroke="#222" stroke-width="0.7" stroke-linejoin="round" stroke-linecap="round" />
<path d="M196,548 Q205,553 212,559 L220,560 L220,571 L211,572 Q204,575 197,574" fill="#fff" stroke="#222" stroke-width="1.0" stroke-linejoin="round" stroke-linecap="round" />
<path d="M196,556 L205,559 L205,570 L196,571 Z" fill="#222" stroke="#222" stroke-width="0.6" stroke-linejoin="round" stroke-linecap="round" />
<path d="M213,558.5 Q214.8,565.5 213.5,573.0" fill="none" stroke="#222" stroke-width="1.4" stroke-linejoin="round" stroke-linecap="round" />
<path d="M216,558.8 Q217.8,565.8 216.5,573.3" fill="none" stroke="#222" stroke-width="1.4" stroke-linejoin="round" stroke-linecap="round" />
<path d="M219,559.1 Q220.8,566.1 219.5,573.6" fill="none" stroke="#222" stroke-width="1.4" stroke-linejoin="round" stroke-linecap="round" />
<path d="M222,559.4 Q223.8,566.4 222.5,573.9" fill="none" stroke="#222" stroke-width="1.4" stroke-linejoin="round" stroke-linecap="round" />
<path d="M225,559.7 Q226.8,566.7 225.5,574.2" fill="none" stroke="#222" stroke-width="1.4" stroke-linejoin="round" stroke-linecap="round" />
<path d="M213,558.5 L228,562 L229,574 L214,575.5" fill="none" stroke="#222" stroke-width="0.9" stroke-linejoin="round" stroke-linecap="round" />
<path d="M229.5,566.5 L305,587.5 M228.5,573.5 L304,595" fill="none" stroke="#222" stroke-width="1.0" stroke-linejoin="round" stroke-linecap="round" />
<path d="M303,583.5 Q301,590 305,595.5 L311,597 Q314,590 311,585 Z" fill="#fff" stroke="#222" stroke-width="1.0" stroke-linejoin="round" stroke-linecap="round" />
<path d="M310,585 Q318,584 336,584 L347,582 L349,597 L351.5,621 L338,618 Q325,611 313,597" fill="#fff" stroke="#222" stroke-width="1.0" stroke-linejoin="round" stroke-linecap="round" />
<path d="M311,585 Q322,592 340,603 M313,593 Q325,603 339,616 M336,584 L339,591 L346,595 M339,591 L340,603 L338,618 M340,603 L347,598" fill="none" stroke="#222" stroke-width="0.7" stroke-linejoin="round" stroke-linecap="round" />
<path d="M341.0,603.0 L348.0,600.0 L349.0,614.0 L342.0,617.0 Z" fill="#fff" stroke="#222" stroke-width="0.8" stroke-linejoin="round" stroke-linecap="round" />
<path d="M348.5,602 L362,609 L363,612.5 L349,607" fill="#fff" stroke="#222" stroke-width="0.9" stroke-linejoin="round" stroke-linecap="round" />
<ellipse cx="362.5" cy="610.8" rx="1.0" ry="1.8" transform="rotate(0 362.5 610.8)" fill="none" stroke="#222" stroke-width="0.7"/>
<g transform="rotate(-28 403 669.5)">
<rect x="393.5" y="666.5" width="19" height="6.5" rx="3.2" fill="#fff" stroke="#222" stroke-width="0.9"/>
<rect x="393.5" y="664.5" width="19" height="6" rx="3" fill="#fff" stroke="#222" stroke-width="0.9"/>
<rect x="399.5" y="663" width="7" height="7" rx="2" fill="#fff" stroke="#222" stroke-width="0.8"/>
<ellipse cx="396.8" cy="667.5" rx="1.6" ry="1.2" transform="rotate(0 396.8 667.5)" fill="none" stroke="#222" stroke-width="0.8"/>
<ellipse cx="409.2" cy="667.5" rx="1.6" ry="1.2" transform="rotate(0 409.2 667.5)" fill="none" stroke="#222" stroke-width="0.8"/>
</g>
<g>
<path d="M396.3,658.4 L396.3,663.8 A1.2,0.7 0 0 0 398.7,663.8 L398.7,658.4" fill="#fff" stroke="#222" stroke-width="0.9"/>
<ellipse cx="397.5" cy="658.1" rx="2.0" ry="1.5" fill="#222"/>
<ellipse cx="397.5" cy="658.0" rx="1.0" ry="0.5" fill="#777"/>
</g>
<g>
<path d="M404.6,652.5 L404.6,657.8 A1.2,0.7 0 0 0 407.0,657.8 L407.0,652.5" fill="#fff" stroke="#222" stroke-width="0.9"/>
<ellipse cx="405.8" cy="652.2" rx="2.0" ry="1.5" fill="#222"/>
<ellipse cx="405.8" cy="652.1" rx="1.0" ry="0.5" fill="#777"/>
</g>
<path d="M381,729 L388,727 Q396,728 397,736 Q397,745 391,747 L384,748" fill="#fff" stroke="#222" stroke-width="1.0" stroke-linejoin="round" stroke-linecap="round" />
<ellipse cx="386.0" cy="737.5" rx="8.0" ry="10.0" transform="rotate(-20 386.0 737.5)" fill="#fff" stroke="#222" stroke-width="1.0"/>
<path d="M388.5,727.5 Q394,730 395.5,738 Q395,744 391.5,746.5" fill="none" stroke="#222" stroke-width="0.7" stroke-linejoin="round" stroke-linecap="round" />
<path d="M407,746 L414,744.5 Q422,745.5 424.5,753 Q424.5,762 418,764 L411,765.5" fill="#fff" stroke="#222" stroke-width="1.6" stroke-linejoin="round" stroke-linecap="round" />
<ellipse cx="411.0" cy="756.0" rx="8.0" ry="9.5" transform="rotate(-20 411.0 756.0)" fill="#fff" stroke="#222" stroke-width="1.0"/>
<path d="M414.5,745 Q421,748 422.5,755 Q422,761 418,763.5" fill="none" stroke="#222" stroke-width="0.8" stroke-linejoin="round" stroke-linecap="round" />
<path d="M383.0,696.7 L394.0,683.6 L403.2,684.4 L418.6,689.0 L426.4,684.5 L435.0,673.5 L444.5,661.8 L454.7,653.1 L467.8,642.9 L473.6,634.2 L479.5,628.4 L495.5,618.2 L510.0,607.3 L531.3,596.7 L559.3,579.0 L574.7,574.3 L578.0,575.5 L581.8,579.5 L584.0,588.9 L589.0,588.2 L596.4,595.5 L603.6,597.6 L611.0,597.6 L613.8,599.0 L623.3,602.7 L624.7,604.2 L624.0,609.3 L621.0,615.0 L616.7,620.2 L612.4,626.7 L603.6,633.3 L589.0,639.8 L576.0,650.0 L556.4,659.0 L551.0,662.7 L549.0,664.5 L536.4,681.0 L530.0,687.3 L507.3,711.0 L495.5,722.7 L486.4,730.0 L478.2,733.6 L466.4,734.5 L448.2,733.6 L430.0,729.0 L383.0,707.0 Z" fill="#fff" stroke="#222" stroke-width="1.3" stroke-linejoin="round" stroke-linecap="round" />
<path d="M394.5,687 L403,687.5 L418.6,692.5 L427,688 L437,677 L446,665 L456,656.5 L469,646.5 L475.5,638 L481,632 L496.5,621.5 L511,610.5 L532,600 L560,582.5 L574,578" fill="none" stroke="#222" stroke-width="1.0" stroke-linejoin="round" stroke-linecap="round" />
<path d="M396,689 L418.6,695.5" fill="none" stroke="#222" stroke-width="0.6" stroke-linejoin="round" stroke-linecap="round" />
<path d="M383.3,696.8 L407,705.8 M425.8,712.4 L428.3,713.2 M449.5,722 L470,722.5 L482,719" fill="none" stroke="#222" stroke-width="0.9" stroke-linejoin="round" stroke-linecap="round" />
<path d="M449.5,722 L449.5,733" fill="none" stroke="#222" stroke-width="0.8" stroke-linejoin="round" stroke-linecap="round" />
<path d="M407,705.8 Q407.5,718 416.8,719.5 Q424.5,719 425.8,712.4" fill="none" stroke="#222" stroke-width="1.7" stroke-linejoin="round" stroke-linecap="round" />
<path d="M428.3,713.2 Q429.5,725 437.3,726 Q447,726 449.5,723.5" fill="none" stroke="#222" stroke-width="1.3" stroke-linejoin="round" stroke-linecap="round" />
<path d="M549,658 L560,643.5 L581.8,630.4 L612.4,611.5 L624,603.5" fill="none" stroke="#222" stroke-width="1.3" stroke-linejoin="round" stroke-linecap="round" />
<path d="M551,661 L562,646.5 L583,633.3 L613.5,614.5 L622,609" fill="none" stroke="#222" stroke-width="0.8" stroke-linejoin="round" stroke-linecap="round" />
<path d="M616.7,620.2 Q619,612 616,606" fill="none" stroke="#222" stroke-width="0.8" stroke-linejoin="round" stroke-linecap="round" />
<path d="M493.6,712.7 L521,681.8 M492.7,710 L492.7,722.7 M449.5,727 L449.5,733.6 M450,722.7 L477.3,721.8 L484.5,719 L493.6,712.7" fill="none" stroke="#222" stroke-width="0.8" stroke-linejoin="round" stroke-linecap="round" />
<path d="M472.7,700 L476,682.7 L485.8,662 L490.2,655.5 L493.5,652.7 L519.6,658.7 L525,665.3 L524,668.5 L508.7,700" fill="none" stroke="#222" stroke-width="1.3" stroke-linejoin="round" stroke-linecap="round" />
<path d="M475.5,700 L479,684 L488,664 L492,658 L494.5,656 L518.5,661.5 L522,666 L506,700" fill="none" stroke="#222" stroke-width="0.8" stroke-linejoin="round" stroke-linecap="round" />
<path d="M491,663 Q500,664 507,670 Q512,675 515,667 M492,667 Q502,669 507,676" fill="none" stroke="#222" stroke-width="0.6" stroke-linejoin="round" stroke-linecap="round" />
<path d="M471.0,690.0 L483.0,681.0 L489.7,684.0 L489.7,698.0 L478.0,706.0 L471.0,703.0 Z" fill="#fff" stroke="#222" stroke-width="1.0" stroke-linejoin="round" stroke-linecap="round" />
<path d="M471,690 L478,693 L489.7,684 M478,693 L478,706" fill="none" stroke="#222" stroke-width="0.8" stroke-linejoin="round" stroke-linecap="round" />
<path d="M520.7,603 Q521,611 523,617 Q527,624 531.6,629 Q540,636 549,641.3" fill="none" stroke="#222" stroke-width="0.8" stroke-linejoin="round" stroke-linecap="round" />
<path d="M523,602 Q524,612 526,617 Q530,624 534,628" fill="none" stroke="#222" stroke-width="0.8" stroke-linejoin="round" stroke-linecap="round" />
<path d="M530.5,598.7 Q532,615 536,621 Q542,629 551,636 L560,641" fill="none" stroke="#222" stroke-width="0.8" stroke-linejoin="round" stroke-linecap="round" />
<path d="M533,597.5 Q535,611 539,618 Q545,626 552,632" fill="none" stroke="#222" stroke-width="0.8" stroke-linejoin="round" stroke-linecap="round" />
<path d="M540,594.4 Q541,607 546,614 Q552,621 557,624 L564,629" fill="none" stroke="#222" stroke-width="0.8" stroke-linejoin="round" stroke-linecap="round" />
<path d="M543,593 Q545,606 549,612" fill="none" stroke="#222" stroke-width="0.8" stroke-linejoin="round" stroke-linecap="round" />
<path d="M559,582 Q563,595 571,604 Q578,612 585,618" fill="none" stroke="#222" stroke-width="0.8" stroke-linejoin="round" stroke-linecap="round" />
<path d="M562,581 Q567,594 575,603" fill="none" stroke="#222" stroke-width="0.8" stroke-linejoin="round" stroke-linecap="round" />
<path d="M570,583 Q575,590 582,596 L590,601" fill="none" stroke="#222" stroke-width="0.8" stroke-linejoin="round" stroke-linecap="round" />
<path d="M585,589 Q589,593 596,595" fill="none" stroke="#222" stroke-width="0.8" stroke-linejoin="round" stroke-linecap="round" />
<path d="M570,607 L582,620 L595,614" fill="none" stroke="#222" stroke-width="0.8" stroke-linejoin="round" stroke-linecap="round" />
<path d="M472.5,646 L472.5,659 M477.5,646 L477.5,659" fill="none" stroke="#222" stroke-width="0.8" stroke-linejoin="round" stroke-linecap="round" />
<ellipse cx="475.0" cy="646.0" rx="2.5" ry="1.5" transform="rotate(0 475.0 646.0)" fill="#fff" stroke="#222" stroke-width="0.8"/>
<ellipse cx="475.0" cy="646.0" rx="1.1" ry="0.8" transform="rotate(0 475.0 646.0)" fill="#444" stroke="#222" stroke-width="0.3"/>
<path d="M472.8,664 L472.8,676 M477.2,664 L477.2,676" fill="none" stroke="#222" stroke-width="0.8" stroke-linejoin="round" stroke-linecap="round" />
<ellipse cx="475.0" cy="664.0" rx="2.2" ry="1.3" transform="rotate(0 475.0 664.0)" fill="#fff" stroke="#222" stroke-width="0.8"/>
<ellipse cx="475.0" cy="664.0" rx="1.0" ry="0.7" transform="rotate(0 475.0 664.0)" fill="#444" stroke="#222" stroke-width="0.3"/>
<path d="M452.2,662 L452.2,675 M457.40000000000003,662 L457.40000000000003,675" fill="none" stroke="#222" stroke-width="0.8" stroke-linejoin="round" stroke-linecap="round" />
<ellipse cx="454.8" cy="662.0" rx="2.6" ry="1.6" transform="rotate(0 454.8 662.0)" fill="#fff" stroke="#222" stroke-width="0.8"/>
<ellipse cx="454.8" cy="662.0" rx="1.2" ry="0.8" transform="rotate(0 454.8 662.0)" fill="#444" stroke="#222" stroke-width="0.3"/>
<path d="M531.5999999999999,658.5 L531.5999999999999,668.5 M537.0,658.5 L537.0,668.5" fill="none" stroke="#222" stroke-width="0.8" stroke-linejoin="round" stroke-linecap="round" />
<ellipse cx="534.3" cy="658.5" rx="2.7" ry="1.6" transform="rotate(0 534.3 658.5)" fill="#fff" stroke="#222" stroke-width="0.8"/>
<ellipse cx="534.3" cy="658.5" rx="1.2" ry="0.8" transform="rotate(0 534.3 658.5)" fill="#444" stroke="#222" stroke-width="0.3"/>
<path d="M544.5999999999999,649 L544.5999999999999,657 M549.0,649 L549.0,657" fill="none" stroke="#222" stroke-width="0.8" stroke-linejoin="round" stroke-linecap="round" />
<ellipse cx="546.8" cy="649.0" rx="2.2" ry="1.3" transform="rotate(0 546.8 649.0)" fill="#fff" stroke="#222" stroke-width="0.8"/>
<ellipse cx="546.8" cy="649.0" rx="1.0" ry="0.7" transform="rotate(0 546.8 649.0)" fill="#444" stroke="#222" stroke-width="0.3"/>
<path d="M485.8,631 L485.8,650 M491.2,631 L491.2,650" fill="none" stroke="#222" stroke-width="0.8" stroke-linejoin="round" stroke-linecap="round" />
<ellipse cx="488.5" cy="631.0" rx="2.7" ry="1.6" transform="rotate(0 488.5 631.0)" fill="#fff" stroke="#222" stroke-width="0.8"/>
<ellipse cx="488.5" cy="631.0" rx="1.2" ry="0.8" transform="rotate(0 488.5 631.0)" fill="#444" stroke="#222" stroke-width="0.3"/>
<path d="M513.0,629.5 L513.0,635.5 M516.4000000000001,629.5 L516.4000000000001,635.5" fill="none" stroke="#222" stroke-width="0.8" stroke-linejoin="round" stroke-linecap="round" />
<ellipse cx="514.7" cy="629.5" rx="1.7" ry="1.0" transform="rotate(0 514.7 629.5)" fill="#fff" stroke="#222" stroke-width="0.8"/>
<ellipse cx="514.7" cy="629.5" rx="0.8" ry="0.5" transform="rotate(0 514.7 629.5)" fill="#444" stroke="#222" stroke-width="0.3"/>
<path d="M523,629 L523,644 M527,629 L527,644" fill="none" stroke="#222" stroke-width="0.8" stroke-linejoin="round" stroke-linecap="round" />
<ellipse cx="525.0" cy="629.0" rx="2.0" ry="1.2" transform="rotate(0 525.0 629.0)" fill="#fff" stroke="#222" stroke-width="0.8"/>
<ellipse cx="525.0" cy="629.0" rx="0.9" ry="0.6" transform="rotate(0 525.0 629.0)" fill="#444" stroke="#222" stroke-width="0.3"/>
<path d="M566.8,620 L566.8,628 M571.2,620 L571.2,628" fill="none" stroke="#222" stroke-width="0.8" stroke-linejoin="round" stroke-linecap="round" />
<ellipse cx="569.0" cy="620.0" rx="2.2" ry="1.3" transform="rotate(0 569.0 620.0)" fill="#fff" stroke="#222" stroke-width="0.8"/>
<ellipse cx="569.0" cy="620.0" rx="1.0" ry="0.7" transform="rotate(0 569.0 620.0)" fill="#444" stroke="#222" stroke-width="0.3"/>
<path d="M584.8,611 L584.8,618 M589.2,611 L589.2,618" fill="none" stroke="#222" stroke-width="0.8" stroke-linejoin="round" stroke-linecap="round" />
<ellipse cx="587.0" cy="611.0" rx="2.2" ry="1.3" transform="rotate(0 587.0 611.0)" fill="#fff" stroke="#222" stroke-width="0.8"/>
<ellipse cx="587.0" cy="611.0" rx="1.0" ry="0.7" transform="rotate(0 587.0 611.0)" fill="#444" stroke="#222" stroke-width="0.3"/>
<path d="M595.8,598 L595.8,606 M600.2,598 L600.2,606" fill="none" stroke="#222" stroke-width="0.8" stroke-linejoin="round" stroke-linecap="round" />
<ellipse cx="598.0" cy="598.0" rx="2.2" ry="1.3" transform="rotate(0 598.0 598.0)" fill="#fff" stroke="#222" stroke-width="0.8"/>
<ellipse cx="598.0" cy="598.0" rx="1.0" ry="0.7" transform="rotate(0 598.0 598.0)" fill="#444" stroke="#222" stroke-width="0.3"/>
<path d="M607.8,597 L607.8,604 M612.2,597 L612.2,604" fill="none" stroke="#222" stroke-width="0.8" stroke-linejoin="round" stroke-linecap="round" />
<ellipse cx="610.0" cy="597.0" rx="2.2" ry="1.3" transform="rotate(0 610.0 597.0)" fill="#fff" stroke="#222" stroke-width="0.8"/>
<ellipse cx="610.0" cy="597.0" rx="1.0" ry="0.7" transform="rotate(0 610.0 597.0)" fill="#444" stroke="#222" stroke-width="0.3"/>
<path d="M504.2,620 L504.2,630 M507.8,620 L507.8,630" fill="none" stroke="#222" stroke-width="0.8" stroke-linejoin="round" stroke-linecap="round" />
<ellipse cx="506.0" cy="620.0" rx="1.8" ry="1.1" transform="rotate(0 506.0 620.0)" fill="#fff" stroke="#222" stroke-width="0.8"/>
<ellipse cx="506.0" cy="620.0" rx="0.8" ry="0.5" transform="rotate(0 506.0 620.0)" fill="#444" stroke="#222" stroke-width="0.3"/>
<path d="M494.5,643 Q499,648 504,649 Q510,650 516.4,646 M494.5,639 L494.5,651 M516.4,643 L516.4,652" fill="none" stroke="#222" stroke-width="0.8" stroke-linejoin="round" stroke-linecap="round" />
<path d="M511,631 Q516,640 523,643 Q527,645 530.5,641 M511,629 L511,640" fill="none" stroke="#222" stroke-width="0.8" stroke-linejoin="round" stroke-linecap="round" />
<path d="M499,622.7 L516.4,626 L516.4,631 M499,622.7 L499,641 M506,610 L506,622" fill="none" stroke="#222" stroke-width="0.8" stroke-linejoin="round" stroke-linecap="round" />
<path d="M527,644.5 L536,645 L536,650 L545,648" fill="none" stroke="#222" stroke-width="0.7" stroke-linejoin="round" stroke-linecap="round" />
<path d="M459,671 L468,680 L468,686 M462,666 L462,686 M458,684 L466,690" fill="none" stroke="#222" stroke-width="0.7" stroke-linejoin="round" stroke-linecap="round" />
<path d="M429,702 L429,712 M433,700 L433,712 M421,688 L421,703 L430,700" fill="none" stroke="#222" stroke-width="0.7" stroke-linejoin="round" stroke-linecap="round" />
<path d="M442,700 Q447,692 452,700 Q455,707 450,712 Q444,712 442,706" fill="none" stroke="#222" stroke-width="0.8" stroke-linejoin="round" stroke-linecap="round" />
<path d="M453,704 Q459,699 463,709 L464,718" fill="none" stroke="#222" stroke-width="1.3" stroke-linejoin="round" stroke-linecap="round" />
<path d="M392,688 L392,700 M398,689 L398,701 M400,694 L408,696 M402,690 L402,700 L410,701" fill="none" stroke="#222" stroke-width="0.7" stroke-linejoin="round" stroke-linecap="round" />
<path d="M525,665.3 L560,643 M524,668.5 L562,646" fill="none" stroke="#222" stroke-width="0.7" stroke-linejoin="round" stroke-linecap="round" />
<path d="M522.4,602.5 Q523,614 530.5,625.5 Q535,631 540.4,633.6 L550.2,640" fill="none" stroke="#222" stroke-width="0.8" stroke-linejoin="round" stroke-linecap="round" />
<path d="M532.2,597.6 Q534,614 543.6,627 Q548,632 555,635.3" fill="none" stroke="#222" stroke-width="0.8" stroke-linejoin="round" stroke-linecap="round" />
<path d="M542,594.4 Q543,609 548.5,620.5 Q552,625 558.4,627" fill="none" stroke="#222" stroke-width="0.8" stroke-linejoin="round" stroke-linecap="round" />
<path d="M560,581.3 Q562,596 571.5,609 Q577,616 584.5,622" fill="none" stroke="#222" stroke-width="0.8" stroke-linejoin="round" stroke-linecap="round" />
<path d="M563,580 Q566,594 574,604 Q579,610 586,614" fill="none" stroke="#222" stroke-width="0.8" stroke-linejoin="round" stroke-linecap="round" />
<path d="M583,589.5 Q586,596 590,596.5 Q595,596 599.3,599.3" fill="none" stroke="#222" stroke-width="0.8" stroke-linejoin="round" stroke-linecap="round" />
<path d="M588,597 L588,610 M594.4,597 L594.4,609" fill="none" stroke="#222" stroke-width="0.8" stroke-linejoin="round" stroke-linecap="round" />
<path d="M507,623 L515,617 L524,620 L524,628" fill="none" stroke="#222" stroke-width="0.8" stroke-linejoin="round" stroke-linecap="round" />
<path d="M470,649 L479,641 L487,645 L487,652" fill="none" stroke="#222" stroke-width="0.8" stroke-linejoin="round" stroke-linecap="round" />
<path d="M455,672 L463,667 M445,685 L455,679 L455,690" fill="none" stroke="#222" stroke-width="0.8" stroke-linejoin="round" stroke-linecap="round" />
<path d="M530,654 L540,650 L548,652 L548,660" fill="none" stroke="#222" stroke-width="0.8" stroke-linejoin="round" stroke-linecap="round" />
<path d="M500,629 Q503,633 508,633 M480,656 Q485,660 490,658" fill="none" stroke="#222" stroke-width="0.8" stroke-linejoin="round" stroke-linecap="round" />
<path d="M566,611 L572,609 L578,613 L578,621" fill="none" stroke="#222" stroke-width="0.8" stroke-linejoin="round" stroke-linecap="round" />
<path d="M601,604 L606,602 L611,604 L611,611" fill="none" stroke="#222" stroke-width="0.8" stroke-linejoin="round" stroke-linecap="round" />
<path d="M477,684 L481,679 M464,694 L470,689 L470,700" fill="none" stroke="#222" stroke-width="0.8" stroke-linejoin="round" stroke-linecap="round" />
<path d="M574.7,578 L578,575.5 M584.5,581.3 L585,588 M609,599.3 L609,604 M620.5,614 L622,605" fill="none" stroke="#222" stroke-width="0.9" stroke-linejoin="round" stroke-linecap="round" />
<path d="M612,612 Q617,608 621,610 Q622,615 618,617" fill="none" stroke="#222" stroke-width="1.4" stroke-linejoin="round" stroke-linecap="round" />
<path d="M571.5,670.5 L603.4,638.5 L604.2,658.2 L572.3,692.5 Z" fill="#fff" stroke="#222" stroke-width="1.0" stroke-linejoin="round" stroke-linecap="round" />
<path d="M550.2,674.0 L554.0,672.0 L558.4,674.5 L558.4,682.0 L554.5,684.4 L550.2,682.0 Z" fill="#fff" stroke="#222" stroke-width="0.9" stroke-linejoin="round" stroke-linecap="round" />
<path d="M550.2,674 L554.5,676.5 L558.4,674.5 M554.5,676.5 L554.5,684.4" fill="none" stroke="#222" stroke-width="0.7" stroke-linejoin="round" stroke-linecap="round" />
<rect x="551" y="677" width="3" height="5" fill="#333"/>
<path d="M518.3,708.5 L529.5,713.0 L529.5,724.5 L518.3,720.0 Z" fill="#fff" stroke="#222" stroke-width="1.0" stroke-linejoin="round" stroke-linecap="round" />
<path d="M518.3,708.5 L523.0,704.8 L533.0,705.5 L537.0,710.0 L537.0,718.0 L533.0,721.0 L529.5,724.5 L529.5,713.0 Z" fill="#fff" stroke="#222" stroke-width="1.0" stroke-linejoin="round" stroke-linecap="round" />
<path d="M523,704.8 L523,710 M528,706 L528,712 Q530,709 533,710 L533,718 M529.5,713 L537,710" fill="none" stroke="#222" stroke-width="0.7" stroke-linejoin="round" stroke-linecap="round" />
<ellipse cx="523.0" cy="717.0" rx="1.5" ry="1.0" transform="rotate(0 523.0 717.0)" fill="#333" stroke="#222" stroke-width="0.5"/>
<ellipse cx="535.0" cy="735.3" rx="4.5" ry="4.8" transform="rotate(-20 535.0 735.3)" fill="#222" stroke="#222" stroke-width="0.8"/>
<ellipse cx="535.8" cy="735.2" rx="2.3" ry="2.8" transform="rotate(-20 535.8 735.2)" fill="#666" stroke="#222" stroke-width="0.5"/>
<path d="M531,732 Q529,729.5 527,731" fill="none" stroke="#222" stroke-width="0.8" stroke-linejoin="round" stroke-linecap="round" />
<g>
<path d="M520.8,730.9 L520.8,737.0 A1.5,0.9 0 0 0 523.8,737.0 L523.8,730.9" fill="#fff" stroke="#222" stroke-width="0.9"/>
<ellipse cx="522.3" cy="730.5" rx="2.5" ry="1.8" fill="#222"/>
<ellipse cx="522.3" cy="730.3" rx="1.2" ry="0.6" fill="#777"/>
</g>
<path d="M524.0,755.0 L526.5,752.5 L533.5,752.5 L533.5,763.0 L531.0,765.6 L524.0,765.6 Z" fill="#fff" stroke="#222" stroke-width="1.0" stroke-linejoin="round" stroke-linecap="round" />
<path d="M524,755 L531,755 L533.5,752.5 M531,755 L531,765.6" fill="none" stroke="#222" stroke-width="0.8" stroke-linejoin="round" stroke-linecap="round" />
<line x1="528.0" y1="765.6" x2="528.0" y2="781.0" stroke="#222" stroke-width="0.8"/>
<rect x="526.9" y="772" width="2.3" height="7" fill="#222"/>
<path d="M507.0,789.0 L521.0,782.0 L526.0,783.0 L537.0,787.7 L546.8,797.0 L546.0,799.5 L531.8,806.8 L526.0,805.4 L508.6,793.5 Z" fill="#fff" stroke="#222" stroke-width="1.0" stroke-linejoin="round" stroke-linecap="round" />
<path d="M507.5,791 L526,803 L531.8,806.8 M508.6,793.5 L526,805" fill="none" stroke="#222" stroke-width="0.7" stroke-linejoin="round" stroke-linecap="round" />
<path d="M514,786.5 Q525,792 530,800 L546,797.5" fill="none" stroke="#222" stroke-width="0.6" stroke-linejoin="round" stroke-linecap="round" />
<ellipse cx="532.5" cy="785.0" rx="3.5" ry="2.7" transform="rotate(0 532.5 785.0)" fill="#fff" stroke="#222" stroke-width="0.9"/>
<ellipse cx="532.5" cy="784.8" rx="1.8" ry="1.3" transform="rotate(0 532.5 784.8)" fill="none" stroke="#222" stroke-width="0.6"/>
<ellipse cx="512.0" cy="791.5" rx="1.4" ry="1.0" transform="rotate(0 512.0 791.5)" fill="none" stroke="#222" stroke-width="0.6"/>
<ellipse cx="529.5" cy="802.5" rx="1.4" ry="1.0" transform="rotate(0 529.5 802.5)" fill="none" stroke="#222" stroke-width="0.6"/>
<g>
<path d="M534.3,810.1 L534.3,816.2 A1.5,0.9 0 0 0 537.3,816.2 L537.3,810.1" fill="#fff" stroke="#222" stroke-width="0.9"/>
<ellipse cx="535.8" cy="809.8" rx="2.5" ry="1.8" fill="#222"/>
<ellipse cx="535.8" cy="809.6" rx="1.2" ry="0.6" fill="#777"/>
</g>
<ellipse cx="535.0" cy="824.5" rx="4.0" ry="3.0" transform="rotate(0 535.0 824.5)" fill="#fff" stroke="#222" stroke-width="0.9"/>
<ellipse cx="535.0" cy="824.5" rx="2.0" ry="1.4" transform="rotate(0 535.0 824.5)" fill="none" stroke="#222" stroke-width="0.6"/>
<line x1="877.0" y1="497.0" x2="822.0" y2="705.0" stroke="#222" stroke-width="0.8"/>
<g transform="rotate(12 870.8 500)">
<path d="M864.5,494.5 L864.5,506 Q870.8,510 877.1,506 L877.1,494.5 Z" fill="#2a2a2a" stroke="#111" stroke-width="1"/>
<line x1="865.8" y1="496.5" x2="867.0" y2="506.5" stroke="#bbb" stroke-width="0.6"/>
<line x1="867.9" y1="496.5" x2="869.1" y2="506.5" stroke="#bbb" stroke-width="0.6"/>
<line x1="870.0" y1="496.5" x2="871.2" y2="506.5" stroke="#bbb" stroke-width="0.6"/>
<line x1="872.1" y1="496.5" x2="873.3" y2="506.5" stroke="#bbb" stroke-width="0.6"/>
<line x1="874.2" y1="496.5" x2="875.4" y2="506.5" stroke="#bbb" stroke-width="0.6"/>
<line x1="876.3" y1="496.5" x2="877.5" y2="506.5" stroke="#bbb" stroke-width="0.6"/>
<ellipse cx="870.8" cy="494.5" rx="6.3" ry="3.3" transform="rotate(0 870.8 494.5)" fill="#333" stroke="#111" stroke-width="1.0"/>
<ellipse cx="870.8" cy="494.3" rx="2.6" ry="1.3" transform="rotate(0 870.8 494.3)" fill="#ddd" stroke="#222" stroke-width="0.5"/>
</g>
<ellipse cx="866.8" cy="517.5" rx="4.5" ry="2.6" transform="rotate(-10 866.8 517.5)" fill="#555" stroke="#222" stroke-width="0.9"/>
<ellipse cx="866.8" cy="517.3" rx="2.0" ry="1.0" transform="rotate(0 866.8 517.3)" fill="#fff" stroke="#222" stroke-width="0.5"/>
<ellipse cx="863.0" cy="531.5" rx="10.5" ry="7.8" transform="rotate(10 863.0 531.5)" fill="none" stroke="#222" stroke-width="1.0"/>
<ellipse cx="863.0" cy="531.5" rx="8.9" ry="6.2" transform="rotate(10 863.0 531.5)" fill="none" stroke="#222" stroke-width="0.8"/>
<ellipse cx="858.5" cy="550.0" rx="10.5" ry="7.8" transform="rotate(10 858.5 550.0)" fill="none" stroke="#222" stroke-width="1.0"/>
<ellipse cx="858.5" cy="550.0" rx="8.9" ry="6.2" transform="rotate(10 858.5 550.0)" fill="none" stroke="#222" stroke-width="0.8"/>
<path d="M843,578.5 L843.5,589 Q850,593.5 857,591.5 L858.5,580" fill="#fff" stroke="#222" stroke-width="0.9" stroke-linejoin="round" stroke-linecap="round" />
<ellipse cx="852.5" cy="576.0" rx="10.3" ry="5.8" transform="rotate(-8 852.5 576.0)" fill="#333" stroke="#222" stroke-width="1.0"/>
<ellipse cx="853.0" cy="575.0" rx="8.6" ry="4.6" transform="rotate(-8 853.0 575.0)" fill="#fff" stroke="#222" stroke-width="0.7"/>
<path d="M847,568 L847,575 M863.5,566 L863.5,573" fill="none" stroke="#222" stroke-width="0.9" stroke-linejoin="round" stroke-linecap="round" />
<ellipse cx="855.4" cy="566.5" rx="8.3" ry="4.6" transform="rotate(-8 855.4 566.5)" fill="#fff" stroke="#222" stroke-width="1.2"/>
<ellipse cx="855.4" cy="566.5" rx="6.3" ry="3.2" transform="rotate(-8 855.4 566.5)" fill="none" stroke="#222" stroke-width="0.7"/>
<line x1="861.0" y1="571.0" x2="848.0" y2="608.0" stroke="#222" stroke-width="0.8"/>
<ellipse cx="846.5" cy="600.3" rx="10.5" ry="7.8" transform="rotate(10 846.5 600.3)" fill="none" stroke="#222" stroke-width="1.0"/>
<ellipse cx="846.5" cy="600.3" rx="8.9" ry="6.2" transform="rotate(10 846.5 600.3)" fill="none" stroke="#222" stroke-width="0.8"/>
<path d="M818,619 L814,641 Q818,652 830,658 Q843,662 855,656 Q862,649 864,640 L865.3,627" fill="#fff" stroke="#222" stroke-width="1.1" stroke-linejoin="round" stroke-linecap="round" />
<ellipse cx="841.5" cy="624.3" rx="23.7" ry="14.5" transform="rotate(12 841.5 624.3)" fill="#fff" stroke="#222" stroke-width="1.2"/>
<ellipse cx="842.3" cy="625.8" rx="19.5" ry="10.8" transform="rotate(12 842.3 625.8)" fill="none" stroke="#222" stroke-width="0.75"/>
<ellipse cx="842.5" cy="626.3" rx="18.0" ry="10.0" transform="rotate(12 842.5 626.3)" fill="none" stroke="#222" stroke-width="0.75"/>
<ellipse cx="842.7" cy="626.9" rx="16.5" ry="9.1" transform="rotate(12 842.7 626.9)" fill="none" stroke="#222" stroke-width="0.75"/>
<ellipse cx="842.9" cy="627.4" rx="15.0" ry="8.2" transform="rotate(12 842.9 627.4)" fill="none" stroke="#222" stroke-width="0.75"/>
<ellipse cx="843.1" cy="628.0" rx="13.5" ry="7.4" transform="rotate(12 843.1 628.0)" fill="none" stroke="#222" stroke-width="0.75"/>
<ellipse cx="843.3" cy="628.5" rx="12.0" ry="6.6" transform="rotate(12 843.3 628.5)" fill="none" stroke="#222" stroke-width="0.75"/>
<ellipse cx="843.5" cy="629.1" rx="10.5" ry="5.7" transform="rotate(12 843.5 629.1)" fill="none" stroke="#222" stroke-width="0.75"/>
<ellipse cx="842.0" cy="624.5" rx="22.0" ry="13.0" transform="rotate(12 842.0 624.5)" fill="none" stroke="#333" stroke-width="1.1"/>
<path d="M816,647 L818,635 Q820,632 822,635 L821,648" fill="none" stroke="#222" stroke-width="0.9" stroke-linejoin="round" stroke-linecap="round" />
<path d="M829,656 L831,644 Q833,641 835,644 L834,657" fill="none" stroke="#222" stroke-width="0.9" stroke-linejoin="round" stroke-linecap="round" />
<path d="M846,656 L848,644 Q850,641 852,644 L851,657" fill="none" stroke="#222" stroke-width="0.9" stroke-linejoin="round" stroke-linecap="round" />
<path d="M857,652 L859,640 Q861,637 863,640 L862,653" fill="none" stroke="#222" stroke-width="0.9" stroke-linejoin="round" stroke-linecap="round" />
<path d="M821.8,673 L822.5,676 Q828,681 835,677 L835.6,673.5" fill="#fff" stroke="#222" stroke-width="0.9" stroke-linejoin="round" stroke-linecap="round" />
<ellipse cx="828.7" cy="672.5" rx="7.0" ry="5.0" transform="rotate(5 828.7 672.5)" fill="#333" stroke="#222" stroke-width="0.9"/>
<ellipse cx="828.7" cy="672.3" rx="3.5" ry="2.2" transform="rotate(0 828.7 672.3)" fill="#fff" stroke="#222" stroke-width="0.6"/>
<ellipse cx="824.5" cy="691.5" rx="11.0" ry="8.0" transform="rotate(10 824.5 691.5)" fill="none" stroke="#222" stroke-width="1.0"/>
<ellipse cx="824.5" cy="691.5" rx="9.4" ry="6.4" transform="rotate(10 824.5 691.5)" fill="none" stroke="#222" stroke-width="0.8"/>
<path d="M819.5,705.5 L823.5,706.5 L801.5,792 L797.5,791 Z" fill="#fff" stroke="#222" stroke-width="0.9" stroke-linejoin="round" stroke-linecap="round" />
<path d="M819.5,705.5 L823.5,706.5 L821,713 L817.5,712 Z" fill="#222" stroke="#222" stroke-width="0.6" stroke-linejoin="round" stroke-linecap="round" />
<path d="M818.5,719 L822.5,720 L821,726 Q819.5,728 817,725 Z" fill="#fff" stroke="#222" stroke-width="0.9" stroke-linejoin="round" stroke-linecap="round" />
<path d="M816.8,726 L819.5,727 L781.5,876 L778,875 Z" fill="#fff" stroke="#222" stroke-width="0.9" stroke-linejoin="round" stroke-linecap="round" />
<line x1="818.2" y1="727.0" x2="779.8" y2="875.0" stroke="#222" stroke-width="0.5"/>
<path d="M783,868 L785,868.5 L780.5,885 L777.5,884 Z" fill="#fff" stroke="#222" stroke-width="0.9" stroke-linejoin="round" stroke-linecap="round" />
<rect x="776.3" y="878" width="4.5" height="6.5" transform="rotate(15 778.5 881)" fill="#111"/>
<path d="M736.3,719 L737.2,710 L776.9,719.6 L774.3,731" fill="none" stroke="#222" stroke-width="0.9" stroke-linejoin="round" stroke-linecap="round" />
<line x1="771.5" y1="737.7" x2="738.0" y2="874.0" stroke="#222" stroke-width="0.9" stroke-dasharray="12,3,2,3"/>
<path d="M737.5,877 L735.3,886.6 L775.4,897 L778,884.7" fill="none" stroke="#222" stroke-width="0.9" stroke-linejoin="round" stroke-linecap="round" />
<path d="M721.8,728.4 L695,837 Q697,845 706,845 Q714,844 716.7,840 L743.4,729.6" fill="#fff" stroke="#222" stroke-width="1.0" stroke-linejoin="round" stroke-linecap="round" />
<ellipse cx="732.6" cy="729.0" rx="10.8" ry="7.4" transform="rotate(8 732.6 729.0)" fill="#fff" stroke="#222" stroke-width="1.2"/>
<line x1="731.0" y1="737.0" x2="706.0" y2="840.0" stroke="#222" stroke-width="0.8" stroke-dasharray="10,3,2,3"/>
<path d="M695.5,854 L696,857 Q702,861 709.5,857 L710,854" fill="#fff" stroke="#222" stroke-width="0.9" stroke-linejoin="round" stroke-linecap="round" />
<ellipse cx="702.7" cy="853.5" rx="7.4" ry="4.8" transform="rotate(5 702.7 853.5)" fill="#333" stroke="#222" stroke-width="0.9"/>
<ellipse cx="702.7" cy="853.3" rx="3.6" ry="2.2" transform="rotate(0 702.7 853.3)" fill="#fff" stroke="#222" stroke-width="0.6"/>
<path d="M689.5,872 L690,876.5 Q697,881 706,876.5 L706.3,872" fill="#fff" stroke="#222" stroke-width="1.0" stroke-linejoin="round" stroke-linecap="round" />
<ellipse cx="697.9" cy="871.5" rx="8.4" ry="5.5" transform="rotate(5 697.9 871.5)" fill="#333" stroke="#222" stroke-width="1.0"/>
<ellipse cx="698.2" cy="871.5" rx="5.0" ry="3.0" transform="rotate(0 698.2 871.5)" fill="#fff" stroke="#222" stroke-width="0.7"/>
<ellipse cx="693.8" cy="890.0" rx="9.8" ry="6.6" transform="rotate(10 693.8 890.0)" fill="none" stroke="#222" stroke-width="1.0"/>
<ellipse cx="693.8" cy="890.0" rx="8.2" ry="5.0" transform="rotate(10 693.8 890.0)" fill="none" stroke="#222" stroke-width="0.8"/>
<line x1="706.0" y1="846.0" x2="688.0" y2="962.0" stroke="#222" stroke-width="0.8"/>
<path d="M659.3,930 Q658,940 662,946 L656.4,943.8 L659,950 L666.2,956.2 L674.2,947.5 L679.3,948.2 L690.2,949.6 L688.4,960.5 L690.2,961.3 L702.5,954.7 L705.8,941 L708,930" fill="#fff" stroke="#222" stroke-width="1.0" stroke-linejoin="round" stroke-linecap="round" />
<ellipse cx="683.6" cy="928.8" rx="24.4" ry="17.6" transform="rotate(8 683.6 928.8)" fill="#fff" stroke="#222" stroke-width="1.1"/>
<ellipse cx="684.5" cy="927.5" rx="18.5" ry="13.0" transform="rotate(8 684.5 927.5)" fill="none" stroke="#222" stroke-width="0.9"/>
<ellipse cx="686.0" cy="926.3" rx="13.0" ry="8.8" transform="rotate(8 686.0 926.3)" fill="none" stroke="#222" stroke-width="0.8"/>
<ellipse cx="686.0" cy="926.5" rx="11.5" ry="7.5" transform="rotate(8 686.0 926.5)" fill="none" stroke="#222" stroke-width="0.7"/>
<path d="M677,913 L676,922 Q680,931 690,931 Q697,930 697.5,922 L698,912" fill="#fff" stroke="#222" stroke-width="1.0" stroke-linejoin="round" stroke-linecap="round" />
<ellipse cx="687.6" cy="912.6" rx="10.5" ry="7.3" transform="rotate(8 687.6 912.6)" fill="#fff" stroke="#222" stroke-width="1.2"/>
<ellipse cx="688.0" cy="913.0" rx="7.6" ry="5.0" transform="rotate(8 688.0 913.0)" fill="none" stroke="#222" stroke-width="0.8"/>
<line x1="685.0" y1="926.0" x2="677.0" y2="961.0" stroke="#222" stroke-width="0.8"/>
<line x1="688.0" y1="905.0" x2="686.0" y2="916.0" stroke="#222" stroke-width="0.8"/>
<line x1="675.0" y1="966.0" x2="656.0" y2="1066.0" stroke="#222" stroke-width="0.8"/>
<ellipse cx="674.0" cy="973.4" rx="5.7" ry="4.4" transform="rotate(0 674.0 973.4)" fill="#333" stroke="#222" stroke-width="0.8"/>
<ellipse cx="674.0" cy="972.4" rx="5.7" ry="4.4" transform="rotate(0 674.0 972.4)" fill="#fff" stroke="#222" stroke-width="1.8"/>
<ellipse cx="674.0" cy="972.2" rx="3.1" ry="2.2" transform="rotate(0 674.0 972.2)" fill="#999" stroke="#222" stroke-width="0.8"/>
<ellipse cx="669.6" cy="991.7" rx="5.3" ry="4.2" transform="rotate(0 669.6 991.7)" fill="#333" stroke="#222" stroke-width="0.8"/>
<ellipse cx="669.6" cy="990.7" rx="5.3" ry="4.2" transform="rotate(0 669.6 990.7)" fill="#fff" stroke="#222" stroke-width="1.8"/>
<ellipse cx="669.6" cy="990.5" rx="2.9" ry="2.1" transform="rotate(0 669.6 990.5)" fill="#999" stroke="#222" stroke-width="0.8"/>
<ellipse cx="665.0" cy="1009.6" rx="5.3" ry="4.2" transform="rotate(0 665.0 1009.6)" fill="#333" stroke="#222" stroke-width="0.8"/>
<ellipse cx="665.0" cy="1008.6" rx="5.3" ry="4.2" transform="rotate(0 665.0 1008.6)" fill="#fff" stroke="#222" stroke-width="1.8"/>
<ellipse cx="665.0" cy="1008.4" rx="2.9" ry="2.1" transform="rotate(0 665.0 1008.4)" fill="#999" stroke="#222" stroke-width="0.8"/>
<g transform="rotate(15 662 1025.5)"><rect x="657" y="1022" width="10" height="7" rx="1.5" fill="#111"/></g>
<ellipse cx="657.0" cy="1045.5" rx="6.2" ry="5.2" transform="rotate(0 657.0 1045.5)" fill="#fff" stroke="#222" stroke-width="1.3"/>
<ellipse cx="657.0" cy="1044.5" rx="3.5" ry="2.6" transform="rotate(0 657.0 1044.5)" fill="#fff" stroke="#222" stroke-width="0.9"/>
<path d="M651,1046 Q652,1051 657,1051 Q662,1051 663,1046" fill="none" stroke="#222" stroke-width="0.9" stroke-linejoin="round" stroke-linecap="round" />
<path d="M642,1063 L652,1068 Q655,1065 660,1068 L666,1078 L660,1077 L655,1074 L641,1085 L646,1075 Q646,1070 642,1063 Z" fill="#fff" stroke="#222" stroke-width="1.0" stroke-linejoin="round" stroke-linecap="round" />
<ellipse cx="652.8" cy="1066.0" rx="3.2" ry="2.3" transform="rotate(0 652.8 1066.0)" fill="#fff" stroke="#222" stroke-width="0.9"/>
<path d="M649,1067 L649,1072 M656,1067 L656,1072" fill="none" stroke="#222" stroke-width="0.7" stroke-linejoin="round" stroke-linecap="round" />
<path d="M705.0,469.5 L718.0,462.0 L729.0,468.0 L729.0,474.0 L716.0,481.5 L704.5,474.5 Z" fill="#fff" stroke="#222" stroke-width="1.0" stroke-linejoin="round" stroke-linecap="round" />
<path d="M705,469.5 L716,476 L729,468 M716,476 L716,481.5" fill="none" stroke="#222" stroke-width="0.8" stroke-linejoin="round" stroke-linecap="round" />
<path d="M707.5,469 L718,463.5 L726.5,468 M709,471.5 L719,465.5 M719,465.5 L719,470 M712,473 L712,477.5" fill="none" stroke="#222" stroke-width="0.7" stroke-linejoin="round" stroke-linecap="round" />
<g transform="rotate(180 724.5 494.5)">
<path d="M723.0,496.7 L723.0,503.5 A1.5,0.9 0 0 0 726.0,503.5 L726.0,496.7" fill="#fff" stroke="#222" stroke-width="0.9"/>
<ellipse cx="724.5" cy="496.3" rx="2.5" ry="1.8" fill="#222"/>
<ellipse cx="724.5" cy="496.1" rx="1.2" ry="0.6" fill="#777"/>
</g>
<path d="M638.5,513.0 L640.0,510.0 L644.0,509.5 L650.0,512.5 L660.0,517.0 L665.0,519.0 L674.0,525.0 L678.0,529.0 L679.0,534.0 L676.0,536.0 L660.0,536.0 L649.0,534.0 L645.0,529.0 L644.0,523.0 L639.0,516.0 Z" fill="#fff" stroke="#222" stroke-width="1.0" stroke-linejoin="round" stroke-linecap="round" />
<path d="M645,520 L651,519 L651,529 M651,519 L664,525 L664,533 M655,524 L655,534 M658,523 L658,533 M664,525 L669,527 M645,525 L651,526 L664,532" fill="none" stroke="#222" stroke-width="0.7" stroke-linejoin="round" stroke-linecap="round" />
<ellipse cx="642.0" cy="513.5" rx="1.2" ry="1.0" transform="rotate(0 642.0 513.5)" fill="none" stroke="#222" stroke-width="0.6"/>
<ellipse cx="675.0" cy="531.0" rx="1.5" ry="1.0" transform="rotate(0 675.0 531.0)" fill="none" stroke="#222" stroke-width="0.6"/>
<path d="M644,505.0 L644,515 Q647.25,517.5 650.5,515 L650.5,505.0" fill="#fff" stroke="#222" stroke-width="0.9" stroke-linejoin="round" stroke-linecap="round" />
<ellipse cx="647.2" cy="505.0" rx="3.2" ry="1.7" transform="rotate(0 647.2 505.0)" fill="#fff" stroke="#222" stroke-width="0.9"/>
<ellipse cx="647.2" cy="505.0" rx="1.9" ry="1.0" transform="rotate(0 647.2 505.0)" fill="#333" stroke="#222" stroke-width="0.5"/>
<path d="M665.5,516.0 L665.5,528.5 Q669.75,531.0 674,528.5 L674,516.0" fill="#fff" stroke="#222" stroke-width="0.9" stroke-linejoin="round" stroke-linecap="round" />
<ellipse cx="669.8" cy="516.0" rx="4.2" ry="1.7" transform="rotate(0 669.8 516.0)" fill="#fff" stroke="#222" stroke-width="0.9"/>
<ellipse cx="669.8" cy="516.0" rx="2.5" ry="1.0" transform="rotate(0 669.8 516.0)" fill="#333" stroke="#222" stroke-width="0.5"/>
<g>
<path d="M655.2,498.8 L655.2,503.2 A1.3,0.8 0 0 0 657.8,503.2 L657.8,498.8" fill="#fff" stroke="#222" stroke-width="0.9"/>
<ellipse cx="656.5" cy="498.5" rx="2.0" ry="1.5" fill="#222"/>
<ellipse cx="656.5" cy="498.4" rx="1.0" ry="0.5" fill="#777"/>
</g>
<g>
<path d="M670.7,507.3 L670.7,511.2 A1.3,0.8 0 0 0 673.3,511.2 L673.3,507.3" fill="#fff" stroke="#222" stroke-width="0.9"/>
<ellipse cx="672" cy="507.0" rx="2.0" ry="1.5" fill="#222"/>
<ellipse cx="672" cy="506.9" rx="1.0" ry="0.5" fill="#777"/>
</g>
<g transform="rotate(8 589 526)">
<rect x="586" y="513" width="6.8" height="6" rx="1" fill="#222"/>
<path d="M586.5,519 L587,527 L588,529 L588.5,538 Q590,540.5 591.5,538 L591.8,529 L592.8,527 L592.5,519" fill="#fff" stroke="#222" stroke-width="0.9" stroke-linejoin="round" stroke-linecap="round" />
<path d="M587,527 L592.8,527 M588,531 L591.8,531" fill="none" stroke="#222" stroke-width="0.6" stroke-linejoin="round" stroke-linecap="round" />
</g>
<path d="M707.3,572 L669,659 L672.6,660.6 L710.9,573.6 Z" fill="#fff" stroke="#222" stroke-width="0.9" stroke-linejoin="round" stroke-linecap="round" />
<g transform="rotate(24 716 557)">
<rect x="713" y="543" width="6" height="26" fill="#fff" stroke="#222" stroke-width="0.9"/>
<path d="M715,543 L715,556 M717,543 L717,556 M713.5,558 L718.5,558 L718.5,562 L713.5,562 Z" fill="none" stroke="#222" stroke-width="0.7" stroke-linejoin="round" stroke-linecap="round" />
<rect x="712.5" y="568" width="7" height="5" fill="#222"/>
</g>
<g transform="rotate(24 671 656)"><rect x="669" y="651" width="4.5" height="10.5" fill="#1a1a1a"/></g>
<g stroke="#222" stroke-width="0.9" fill="none">
<line x1="366" y1="107" x2="398" y2="133"/>
<line x1="397.5" y1="94" x2="401" y2="116.5"/>
<line x1="420" y1="79" x2="423" y2="127"/>
<line x1="461" y1="65" x2="465" y2="90"/>
<line x1="473.6" y1="141.5" x2="482" y2="147.6"/>
<line x1="576" y1="27" x2="557" y2="37"/>
<line x1="576" y1="39" x2="557" y2="50"/>
<line x1="573" y1="82" x2="548" y2="94"/>
<line x1="576" y1="99" x2="547" y2="113"/>
<line x1="505" y1="47" x2="500" y2="55"/>
<line x1="576" y1="153.6" x2="554.5" y2="163.6"/>
<line x1="576.4" y1="190" x2="543.6" y2="204.5"/>
<line x1="576.4" y1="215.5" x2="547" y2="229"/>
<line x1="576.4" y1="243.6" x2="544.5" y2="259"/>
<line x1="459" y1="249" x2="476.4" y2="279"/>
<line x1="638" y1="244.5" x2="608" y2="258"/>
<line x1="757" y1="280" x2="748" y2="342"/>
<line x1="780" y1="269" x2="769" y2="326"/>
<line x1="813" y1="280" x2="805" y2="327"/>
<line x1="688" y1="307" x2="684" y2="394"/>
<line x1="661" y1="330" x2="650" y2="355"/>
<line x1="637" y1="340" x2="643" y2="368"/>
<line x1="617" y1="358" x2="618" y2="403"/>
<line x1="591" y1="383.5" x2="596.4" y2="450.5"/>
<line x1="548" y1="399" x2="548" y2="430"/>
<line x1="469" y1="476" x2="473" y2="531"/>
<line x1="434" y1="485.5" x2="474" y2="557.5"/>
<line x1="415" y1="492.5" x2="480" y2="581"/>
<line x1="399.5" y1="512.6" x2="439.7" y2="575"/>
<line x1="382" y1="529" x2="425.5" y2="606"/>
<line x1="348" y1="550" x2="402" y2="634"/>
<line x1="283" y1="548" x2="307.7" y2="587"/>
<line x1="205" y1="528" x2="224" y2="561"/>
<line x1="363" y1="658.4" x2="398" y2="668.5"/>
<line x1="326" y1="702.7" x2="377" y2="731.8"/>
<line x1="307.5" y1="729.6" x2="403" y2="754.4"/>
<line x1="749.5" y1="472.7" x2="726.4" y2="490.5"/>
<line x1="657" y1="576.3" x2="593" y2="525.4"/>
<line x1="727.7" y1="601" x2="703" y2="591.4"/>
<line x1="640" y1="674.7" x2="604.6" y2="660"/>
<line x1="607" y1="729.5" x2="555" y2="683"/>
<line x1="566.4" y1="728.7" x2="534.8" y2="719.5"/>
<line x1="566.4" y1="749.8" x2="538.7" y2="739"/>
<line x1="566.4" y1="773.5" x2="533.5" y2="763"/>
<line x1="566" y1="802.7" x2="545.4" y2="800"/>
<line x1="566" y1="820.4" x2="538.6" y2="816"/>
<line x1="564.5" y1="838" x2="538.6" y2="826"/>
<line x1="478.6" y1="707" x2="478.6" y2="787.7"/>
<line x1="876.4" y1="502.7" x2="913" y2="498.6"/>
<line x1="871" y1="517.7" x2="909" y2="513.6"/>
<line x1="873.6" y1="531.4" x2="906" y2="528.6"/>
<line x1="869.5" y1="549" x2="901" y2="547"/>
<line x1="864" y1="568" x2="898" y2="565.5"/>
<line x1="857" y1="599.5" x2="890" y2="596"/>
<line x1="864" y1="623" x2="883" y2="621"/>
<line x1="838" y1="672" x2="872" y2="668.5"/>
<line x1="835.5" y1="690" x2="867" y2="688"/>
<line x1="818.5" y1="727" x2="858" y2="723"/>
<line x1="679.8" y1="774.7" x2="707.8" y2="784.4"/>
<line x1="663" y1="840" x2="696" y2="852.6"/>
<line x1="659.5" y1="855.6" x2="691" y2="871"/>
<line x1="657" y1="872" x2="685" y2="886"/>
<line x1="648" y1="905" x2="666" y2="916"/>
<line x1="635" y1="958.4" x2="668" y2="971"/>
<line x1="630" y1="977.6" x2="664" y2="989.6"/>
<line x1="626" y1="994" x2="660" y2="1008"/>
<line x1="622" y1="1012" x2="657" y2="1025"/>
<line x1="618" y1="1031" x2="651" y2="1044"/>
<line x1="612" y1="1055" x2="642" y2="1065"/>
</g>
<g transform="translate(576.00,14.00) scale(1.1022,0.9630)" fill="none" stroke="#111" stroke-width="1.45" stroke-linecap="round" stroke-linejoin="round" vector-effect="non-scaling-stroke"><path d="M0.7,3.9 Q2.3,2.6 3.1,0.7 L3.1,12.8" transform="translate(0.00,0)" vector-effect="non-scaling-stroke"/><path d="M0.4,6.9 L7.0,6.9" transform="translate(5.60,0)" vector-effect="non-scaling-stroke"/><path d="M0.7,3.9 Q2.3,2.6 3.1,0.7 L3.1,12.8" transform="translate(14.80,0)" vector-effect="non-scaling-stroke"/></g>
<g transform="translate(577.70,32.70) scale(1.0000,0.9185)" fill="none" stroke="#111" stroke-width="1.45" stroke-linecap="round" stroke-linejoin="round" vector-effect="non-scaling-stroke"><path d="M0.8,3.6 C0.8,1.7 2.0,0.7 3.5,0.7 C5.1,0.7 6.2,1.8 6.2,3.5 C6.2,5.3 5.0,6.6 3.6,8.1 L0.8,12.75 L6.4,12.75" transform="translate(0.00,0)" vector-effect="non-scaling-stroke"/></g>
<g transform="translate(486.50,31.30) scale(1.0321,0.9704)" fill="none" stroke="#111" stroke-width="1.45" stroke-linecap="round" stroke-linejoin="round" vector-effect="non-scaling-stroke"><path d="M0.7,3.9 Q2.3,2.6 3.1,0.7 L3.1,12.8" transform="translate(0.00,0)" vector-effect="non-scaling-stroke"/><path d="M0.4,6.9 L7.0,6.9" transform="translate(5.60,0)" vector-effect="non-scaling-stroke"/><path d="M0.9,3.1 C1.2,1.5 2.2,0.7 3.5,0.7 C5.1,0.7 6.0,1.8 6.0,3.3 C6.0,5.0 4.8,6.2 3.0,6.2 C5.0,6.2 6.3,7.5 6.3,9.4 C6.3,11.5 5.0,12.8 3.4,12.8 C1.9,12.8 0.9,11.9 0.7,10.3" transform="translate(14.80,0)" vector-effect="non-scaling-stroke"/></g>
<g transform="translate(450.50,50.00) scale(0.9955,0.9259)" fill="none" stroke="#111" stroke-width="1.45" stroke-linecap="round" stroke-linejoin="round" vector-effect="non-scaling-stroke"><path d="M0.7,3.9 Q2.3,2.6 3.1,0.7 L3.1,12.8" transform="translate(0.00,0)" vector-effect="non-scaling-stroke"/><path d="M0.4,6.9 L7.0,6.9" transform="translate(5.60,0)" vector-effect="non-scaling-stroke"/><path d="M5.0,12.8 L5.0,0.7 L0.6,9.3 L6.6,9.3" transform="translate(14.80,0)" vector-effect="non-scaling-stroke"/></g>
<g transform="translate(409.80,64.70) scale(1.0183,0.9111)" fill="none" stroke="#111" stroke-width="1.45" stroke-linecap="round" stroke-linejoin="round" vector-effect="non-scaling-stroke"><path d="M0.7,3.9 Q2.3,2.6 3.1,0.7 L3.1,12.8" transform="translate(0.00,0)" vector-effect="non-scaling-stroke"/><path d="M0.4,6.9 L7.0,6.9" transform="translate(5.60,0)" vector-effect="non-scaling-stroke"/><path d="M6.0,0.7 L1.5,0.7 L0.9,6.4 C1.5,5.6 2.4,5.2 3.4,5.2 C5.2,5.2 6.3,6.8 6.3,8.9 C6.3,11.2 5.0,12.8 3.3,12.8 C1.9,12.8 0.9,11.9 0.7,10.5" transform="translate(14.80,0)" vector-effect="non-scaling-stroke"/></g>
<g transform="translate(387.30,79.30) scale(1.0183,0.9407)" fill="none" stroke="#111" stroke-width="1.45" stroke-linecap="round" stroke-linejoin="round" vector-effect="non-scaling-stroke"><path d="M0.7,3.9 Q2.3,2.6 3.1,0.7 L3.1,12.8" transform="translate(0.00,0)" vector-effect="non-scaling-stroke"/><path d="M0.4,6.9 L7.0,6.9" transform="translate(5.60,0)" vector-effect="non-scaling-stroke"/><path d="M6.0,3.0 C5.7,1.5 4.8,0.7 3.6,0.7 C1.8,0.7 0.7,2.9 0.7,6.8 C0.7,10.8 1.8,12.8 3.6,12.8 C5.3,12.8 6.3,11.2 6.3,9.0 C6.3,6.9 5.2,5.4 3.6,5.4 C2.2,5.4 1.0,6.6 0.7,8.2" transform="translate(14.80,0)" vector-effect="non-scaling-stroke"/></g>
<g transform="translate(359.00,93.00) scale(1.1429,0.9630)" fill="none" stroke="#111" stroke-width="1.45" stroke-linecap="round" stroke-linejoin="round" vector-effect="non-scaling-stroke"><path d="M0.9,3.1 C1.2,1.5 2.2,0.7 3.5,0.7 C5.1,0.7 6.0,1.8 6.0,3.3 C6.0,5.0 4.8,6.2 3.0,6.2 C5.0,6.2 6.3,7.5 6.3,9.4 C6.3,11.5 5.0,12.8 3.4,12.8 C1.9,12.8 0.9,11.9 0.7,10.3" transform="translate(0.00,0)" vector-effect="non-scaling-stroke"/></g>
<g transform="translate(574.50,69.50) scale(1.0321,0.9407)" fill="none" stroke="#111" stroke-width="1.45" stroke-linecap="round" stroke-linejoin="round" vector-effect="non-scaling-stroke"><path d="M0.7,3.9 Q2.3,2.6 3.1,0.7 L3.1,12.8" transform="translate(0.00,0)" vector-effect="non-scaling-stroke"/><path d="M0.4,6.9 L7.0,6.9" transform="translate(5.60,0)" vector-effect="non-scaling-stroke"/><path d="M0.8,3.6 C0.8,1.7 2.0,0.7 3.5,0.7 C5.1,0.7 6.2,1.8 6.2,3.5 C6.2,5.3 5.0,6.6 3.6,8.1 L0.8,12.75 L6.4,12.75" transform="translate(14.80,0)" vector-effect="non-scaling-stroke"/></g>
<g transform="translate(576.00,93.00) scale(1.1111,0.9259)" fill="none" stroke="#111" stroke-width="1.45" stroke-linecap="round" stroke-linejoin="round" vector-effect="non-scaling-stroke"><path d="M5.0,12.8 L5.0,0.7 L0.6,9.3 L6.6,9.3" transform="translate(0.00,0)" vector-effect="non-scaling-stroke"/></g>
<g transform="translate(449.00,131.80) scale(1.0092,0.9407)" fill="none" stroke="#111" stroke-width="1.45" stroke-linecap="round" stroke-linejoin="round" vector-effect="non-scaling-stroke"><path d="M0.7,3.9 Q2.3,2.6 3.1,0.7 L3.1,12.8" transform="translate(0.00,0)" vector-effect="non-scaling-stroke"/><path d="M0.4,6.9 L7.0,6.9" transform="translate(5.60,0)" vector-effect="non-scaling-stroke"/><path d="M0.7,0.75 L6.3,0.75 C4.3,3.5 2.8,7.5 2.5,12.8" transform="translate(14.80,0)" vector-effect="non-scaling-stroke"/></g>
<g transform="translate(577.00,146.40) scale(1.0714,0.9333)" fill="none" stroke="#111" stroke-width="1.45" stroke-linecap="round" stroke-linejoin="round" vector-effect="non-scaling-stroke"><path d="M6.0,0.7 L1.5,0.7 L0.9,6.4 C1.5,5.6 2.4,5.2 3.4,5.2 C5.2,5.2 6.3,6.8 6.3,8.9 C6.3,11.2 5.0,12.8 3.3,12.8 C1.9,12.8 0.9,11.9 0.7,10.5" transform="translate(0.00,0)" vector-effect="non-scaling-stroke"/></g>
<g transform="translate(577.00,183.60) scale(1.0714,0.8815)" fill="none" stroke="#111" stroke-width="1.45" stroke-linecap="round" stroke-linejoin="round" vector-effect="non-scaling-stroke"><path d="M6.0,3.0 C5.7,1.5 4.8,0.7 3.6,0.7 C1.8,0.7 0.7,2.9 0.7,6.8 C0.7,10.8 1.8,12.8 3.6,12.8 C5.3,12.8 6.3,11.2 6.3,9.0 C6.3,6.9 5.2,5.4 3.6,5.4 C2.2,5.4 1.0,6.6 0.7,8.2" transform="translate(0.00,0)" vector-effect="non-scaling-stroke"/></g>
<g transform="translate(577.00,208.00) scale(1.0714,0.9630)" fill="none" stroke="#111" stroke-width="1.45" stroke-linecap="round" stroke-linejoin="round" vector-effect="non-scaling-stroke"><path d="M0.7,0.75 L6.3,0.75 C4.3,3.5 2.8,7.5 2.5,12.8" transform="translate(0.00,0)" vector-effect="non-scaling-stroke"/></g>
<g transform="translate(577.00,235.50) scale(1.0714,0.8519)" fill="none" stroke="#111" stroke-width="1.45" stroke-linecap="round" stroke-linejoin="round" vector-effect="non-scaling-stroke"><path d="M3.5,6.3 C2.0,6.3 1.0,5.1 1.0,3.5 C1.0,1.8 2.0,0.7 3.5,0.7 C5.0,0.7 6.0,1.8 6.0,3.5 C6.0,5.1 5.0,6.3 3.5,6.3 C1.8,6.3 0.7,7.6 0.7,9.5 C0.7,11.5 1.8,12.8 3.5,12.8 C5.2,12.8 6.3,11.5 6.3,9.5 C6.3,7.6 5.2,6.3 3.5,6.3 Z" transform="translate(0.00,0)" vector-effect="non-scaling-stroke"/></g>
<g transform="translate(455.50,233.60) scale(1.0286,0.8815)" fill="none" stroke="#111" stroke-width="1.45" stroke-linecap="round" stroke-linejoin="round" vector-effect="non-scaling-stroke"><path d="M1.0,10.5 C1.3,12.0 2.2,12.8 3.4,12.8 C5.2,12.8 6.3,10.6 6.3,6.7 C6.3,2.7 5.2,0.7 3.4,0.7 C1.7,0.7 0.7,2.3 0.7,4.5 C0.7,6.6 1.8,8.1 3.4,8.1 C4.8,8.1 6.0,6.9 6.3,5.3" transform="translate(0.00,0)" vector-effect="non-scaling-stroke"/></g>
<g transform="translate(639.00,232.00) scale(1.0896,0.9259)" fill="none" stroke="#111" stroke-width="1.45" stroke-linecap="round" stroke-linejoin="round" vector-effect="non-scaling-stroke"><path d="M0.7,3.9 Q2.3,2.6 3.1,0.7 L3.1,12.8" transform="translate(0.00,0)" vector-effect="non-scaling-stroke"/><path d="M3.5,0.7 C5.3,0.7 6.3,3.0 6.3,6.75 C6.3,10.5 5.3,12.8 3.5,12.8 C1.7,12.8 0.7,10.5 0.7,6.75 C0.7,3.0 1.7,0.7 3.5,0.7 Z" transform="translate(6.40,0)" vector-effect="non-scaling-stroke"/></g>
<g transform="translate(751.00,265.00) scale(0.9701,0.9630)" fill="none" stroke="#111" stroke-width="1.45" stroke-linecap="round" stroke-linejoin="round" vector-effect="non-scaling-stroke"><path d="M0.7,3.9 Q2.3,2.6 3.1,0.7 L3.1,12.8" transform="translate(0.00,0)" vector-effect="non-scaling-stroke"/><path d="M0.8,3.6 C0.8,1.7 2.0,0.7 3.5,0.7 C5.1,0.7 6.2,1.8 6.2,3.5 C6.2,5.3 5.0,6.6 3.6,8.1 L0.8,12.75 L6.4,12.75" transform="translate(6.40,0)" vector-effect="non-scaling-stroke"/></g>
<g transform="translate(777.00,255.00) scale(1.1111,0.9259)" fill="none" stroke="#111" stroke-width="1.45" stroke-linecap="round" stroke-linejoin="round" vector-effect="non-scaling-stroke"><path d="M5.0,12.8 L5.0,0.7 L0.6,9.3 L6.6,9.3" transform="translate(0.00,0)" vector-effect="non-scaling-stroke"/></g>
<g transform="translate(806.00,264.00) scale(1.2745,0.9630)" fill="none" stroke="#111" stroke-width="1.45" stroke-linecap="round" stroke-linejoin="round" vector-effect="non-scaling-stroke"><path d="M0.7,3.9 Q2.3,2.6 3.1,0.7 L3.1,12.8" transform="translate(0.00,0)" vector-effect="non-scaling-stroke"/><path d="M0.7,3.9 Q2.3,2.6 3.1,0.7 L3.1,12.8" transform="translate(6.40,0)" vector-effect="non-scaling-stroke"/></g>
<g transform="translate(682.00,291.00) scale(1.1194,0.9630)" fill="none" stroke="#111" stroke-width="1.45" stroke-linecap="round" stroke-linejoin="round" vector-effect="non-scaling-stroke"><path d="M0.7,3.9 Q2.3,2.6 3.1,0.7 L3.1,12.8" transform="translate(0.00,0)" vector-effect="non-scaling-stroke"/><path d="M0.9,3.1 C1.2,1.5 2.2,0.7 3.5,0.7 C5.1,0.7 6.0,1.8 6.0,3.3 C6.0,5.0 4.8,6.2 3.0,6.2 C5.0,6.2 6.3,7.5 6.3,9.4 C6.3,11.5 5.0,12.8 3.4,12.8 C1.9,12.8 0.9,11.9 0.7,10.3" transform="translate(6.40,0)" vector-effect="non-scaling-stroke"/></g>
<g transform="translate(656.00,315.00) scale(1.0294,0.9630)" fill="none" stroke="#111" stroke-width="1.45" stroke-linecap="round" stroke-linejoin="round" vector-effect="non-scaling-stroke"><path d="M0.7,3.9 Q2.3,2.6 3.1,0.7 L3.1,12.8" transform="translate(0.00,0)" vector-effect="non-scaling-stroke"/><path d="M5.0,12.8 L5.0,0.7 L0.6,9.3 L6.6,9.3" transform="translate(6.40,0)" vector-effect="non-scaling-stroke"/></g>
<g transform="translate(630.00,324.00) scale(0.9701,1.0370)" fill="none" stroke="#111" stroke-width="1.45" stroke-linecap="round" stroke-linejoin="round" vector-effect="non-scaling-stroke"><path d="M0.7,3.9 Q2.3,2.6 3.1,0.7 L3.1,12.8" transform="translate(0.00,0)" vector-effect="non-scaling-stroke"/><path d="M6.0,0.7 L1.5,0.7 L0.9,6.4 C1.5,5.6 2.4,5.2 3.4,5.2 C5.2,5.2 6.3,6.8 6.3,8.9 C6.3,11.2 5.0,12.8 3.3,12.8 C1.9,12.8 0.9,11.9 0.7,10.5" transform="translate(6.40,0)" vector-effect="non-scaling-stroke"/></g>
<g transform="translate(608.00,344.00) scale(1.0821,0.9630)" fill="none" stroke="#111" stroke-width="1.45" stroke-linecap="round" stroke-linejoin="round" vector-effect="non-scaling-stroke"><path d="M0.7,3.9 Q2.3,2.6 3.1,0.7 L3.1,12.8" transform="translate(0.00,0)" vector-effect="non-scaling-stroke"/><path d="M6.0,3.0 C5.7,1.5 4.8,0.7 3.6,0.7 C1.8,0.7 0.7,2.9 0.7,6.8 C0.7,10.8 1.8,12.8 3.6,12.8 C5.3,12.8 6.3,11.2 6.3,9.0 C6.3,6.9 5.2,5.4 3.6,5.4 C2.2,5.4 1.0,6.6 0.7,8.2" transform="translate(6.40,0)" vector-effect="non-scaling-stroke"/></g>
<g transform="translate(583.00,367.00) scale(1.1567,0.9630)" fill="none" stroke="#111" stroke-width="1.45" stroke-linecap="round" stroke-linejoin="round" vector-effect="non-scaling-stroke"><path d="M0.7,3.9 Q2.3,2.6 3.1,0.7 L3.1,12.8" transform="translate(0.00,0)" vector-effect="non-scaling-stroke"/><path d="M0.7,0.75 L6.3,0.75 C4.3,3.5 2.8,7.5 2.5,12.8" transform="translate(6.40,0)" vector-effect="non-scaling-stroke"/></g>
<g transform="translate(539.60,383.50) scale(1.1493,0.9630)" fill="none" stroke="#111" stroke-width="1.45" stroke-linecap="round" stroke-linejoin="round" vector-effect="non-scaling-stroke"><path d="M0.7,3.9 Q2.3,2.6 3.1,0.7 L3.1,12.8" transform="translate(0.00,0)" vector-effect="non-scaling-stroke"/><path d="M3.5,6.3 C2.0,6.3 1.0,5.1 1.0,3.5 C1.0,1.8 2.0,0.7 3.5,0.7 C5.0,0.7 6.0,1.8 6.0,3.5 C6.0,5.1 5.0,6.3 3.5,6.3 C1.8,6.3 0.7,7.6 0.7,9.5 C0.7,11.5 1.8,12.8 3.5,12.8 C5.2,12.8 6.3,11.5 6.3,9.5 C6.3,7.6 5.2,6.3 3.5,6.3 Z" transform="translate(6.40,0)" vector-effect="non-scaling-stroke"/></g>
<g transform="translate(462.00,460.00) scale(1.0448,1.0370)" fill="none" stroke="#111" stroke-width="1.45" stroke-linecap="round" stroke-linejoin="round" vector-effect="non-scaling-stroke"><path d="M0.7,3.9 Q2.3,2.6 3.1,0.7 L3.1,12.8" transform="translate(0.00,0)" vector-effect="non-scaling-stroke"/><path d="M1.0,10.5 C1.3,12.0 2.2,12.8 3.4,12.8 C5.2,12.8 6.3,10.6 6.3,6.7 C6.3,2.7 5.2,0.7 3.4,0.7 C1.7,0.7 0.7,2.3 0.7,4.5 C0.7,6.6 1.8,8.1 3.4,8.1 C4.8,8.1 6.0,6.9 6.3,5.3" transform="translate(6.40,0)" vector-effect="non-scaling-stroke"/></g>
<g transform="translate(425.50,470.00) scale(0.9467,0.9630)" fill="none" stroke="#111" stroke-width="1.45" stroke-linecap="round" stroke-linejoin="round" vector-effect="non-scaling-stroke"><path d="M0.8,3.6 C0.8,1.7 2.0,0.7 3.5,0.7 C5.1,0.7 6.2,1.8 6.2,3.5 C6.2,5.3 5.0,6.6 3.6,8.1 L0.8,12.75 L6.4,12.75" transform="translate(0.00,0)" vector-effect="non-scaling-stroke"/><path d="M3.5,0.7 C5.3,0.7 6.3,3.0 6.3,6.75 C6.3,10.5 5.3,12.8 3.5,12.8 C1.7,12.8 0.7,10.5 0.7,6.75 C0.7,3.0 1.7,0.7 3.5,0.7 Z" transform="translate(8.00,0)" vector-effect="non-scaling-stroke"/></g>
<g transform="translate(405.50,478.00) scale(1.1949,0.9630)" fill="none" stroke="#111" stroke-width="1.45" stroke-linecap="round" stroke-linejoin="round" vector-effect="non-scaling-stroke"><path d="M0.8,3.6 C0.8,1.7 2.0,0.7 3.5,0.7 C5.1,0.7 6.2,1.8 6.2,3.5 C6.2,5.3 5.0,6.6 3.6,8.1 L0.8,12.75 L6.4,12.75" transform="translate(0.00,0)" vector-effect="non-scaling-stroke"/><path d="M0.7,3.9 Q2.3,2.6 3.1,0.7 L3.1,12.8" transform="translate(8.00,0)" vector-effect="non-scaling-stroke"/></g>
<g transform="translate(389.00,497.00) scale(1.0000,0.9630)" fill="none" stroke="#111" stroke-width="1.45" stroke-linecap="round" stroke-linejoin="round" vector-effect="non-scaling-stroke"><path d="M0.8,3.6 C0.8,1.7 2.0,0.7 3.5,0.7 C5.1,0.7 6.2,1.8 6.2,3.5 C6.2,5.3 5.0,6.6 3.6,8.1 L0.8,12.75 L6.4,12.75" transform="translate(0.00,0)" vector-effect="non-scaling-stroke"/><path d="M0.8,3.6 C0.8,1.7 2.0,0.7 3.5,0.7 C5.1,0.7 6.2,1.8 6.2,3.5 C6.2,5.3 5.0,6.6 3.6,8.1 L0.8,12.75 L6.4,12.75" transform="translate(8.00,0)" vector-effect="non-scaling-stroke"/></g>
<g transform="translate(370.00,514.00) scale(0.9333,0.9630)" fill="none" stroke="#111" stroke-width="1.45" stroke-linecap="round" stroke-linejoin="round" vector-effect="non-scaling-stroke"><path d="M0.8,3.6 C0.8,1.7 2.0,0.7 3.5,0.7 C5.1,0.7 6.2,1.8 6.2,3.5 C6.2,5.3 5.0,6.6 3.6,8.1 L0.8,12.75 L6.4,12.75" transform="translate(0.00,0)" vector-effect="non-scaling-stroke"/><path d="M0.9,3.1 C1.2,1.5 2.2,0.7 3.5,0.7 C5.1,0.7 6.0,1.8 6.0,3.3 C6.0,5.0 4.8,6.2 3.0,6.2 C5.0,6.2 6.3,7.5 6.3,9.4 C6.3,11.5 5.0,12.8 3.4,12.8 C1.9,12.8 0.9,11.9 0.7,10.3" transform="translate(8.00,0)" vector-effect="non-scaling-stroke"/></g>
<g transform="translate(337.00,535.00) scale(1.0263,0.9630)" fill="none" stroke="#111" stroke-width="1.45" stroke-linecap="round" stroke-linejoin="round" vector-effect="non-scaling-stroke"><path d="M0.8,3.6 C0.8,1.7 2.0,0.7 3.5,0.7 C5.1,0.7 6.2,1.8 6.2,3.5 C6.2,5.3 5.0,6.6 3.6,8.1 L0.8,12.75 L6.4,12.75" transform="translate(0.00,0)" vector-effect="non-scaling-stroke"/><path d="M5.0,12.8 L5.0,0.7 L0.6,9.3 L6.6,9.3" transform="translate(8.00,0)" vector-effect="non-scaling-stroke"/></g>
<g transform="translate(276.00,532.50) scale(1.0000,0.9630)" fill="none" stroke="#111" stroke-width="1.45" stroke-linecap="round" stroke-linejoin="round" vector-effect="non-scaling-stroke"><path d="M0.8,3.6 C0.8,1.7 2.0,0.7 3.5,0.7 C5.1,0.7 6.2,1.8 6.2,3.5 C6.2,5.3 5.0,6.6 3.6,8.1 L0.8,12.75 L6.4,12.75" transform="translate(0.00,0)" vector-effect="non-scaling-stroke"/><path d="M6.0,0.7 L1.5,0.7 L0.9,6.4 C1.5,5.6 2.4,5.2 3.4,5.2 C5.2,5.2 6.3,6.8 6.3,8.9 C6.3,11.2 5.0,12.8 3.3,12.8 C1.9,12.8 0.9,11.9 0.7,10.5" transform="translate(8.00,0)" vector-effect="non-scaling-stroke"/></g>
<g transform="translate(196.60,511.00) scale(1.0267,1.0741)" fill="none" stroke="#111" stroke-width="1.45" stroke-linecap="round" stroke-linejoin="round" vector-effect="non-scaling-stroke"><path d="M0.8,3.6 C0.8,1.7 2.0,0.7 3.5,0.7 C5.1,0.7 6.2,1.8 6.2,3.5 C6.2,5.3 5.0,6.6 3.6,8.1 L0.8,12.75 L6.4,12.75" transform="translate(0.00,0)" vector-effect="non-scaling-stroke"/><path d="M6.0,3.0 C5.7,1.5 4.8,0.7 3.6,0.7 C1.8,0.7 0.7,2.9 0.7,6.8 C0.7,10.8 1.8,12.8 3.6,12.8 C5.3,12.8 6.3,11.2 6.3,9.0 C6.3,6.9 5.2,5.4 3.6,5.4 C2.2,5.4 1.0,6.6 0.7,8.2" transform="translate(8.00,0)" vector-effect="non-scaling-stroke"/></g>
<g transform="translate(351.50,643.80) scale(0.9867,1.0222)" fill="none" stroke="#111" stroke-width="1.45" stroke-linecap="round" stroke-linejoin="round" vector-effect="non-scaling-stroke"><path d="M0.8,3.6 C0.8,1.7 2.0,0.7 3.5,0.7 C5.1,0.7 6.2,1.8 6.2,3.5 C6.2,5.3 5.0,6.6 3.6,8.1 L0.8,12.75 L6.4,12.75" transform="translate(0.00,0)" vector-effect="non-scaling-stroke"/><path d="M0.7,0.75 L6.3,0.75 C4.3,3.5 2.8,7.5 2.5,12.8" transform="translate(8.00,0)" vector-effect="non-scaling-stroke"/></g>
<g transform="translate(312.00,690.40) scale(1.0000,0.9704)" fill="none" stroke="#111" stroke-width="1.45" stroke-linecap="round" stroke-linejoin="round" vector-effect="non-scaling-stroke"><path d="M0.8,3.6 C0.8,1.7 2.0,0.7 3.5,0.7 C5.1,0.7 6.2,1.8 6.2,3.5 C6.2,5.3 5.0,6.6 3.6,8.1 L0.8,12.75 L6.4,12.75" transform="translate(0.00,0)" vector-effect="non-scaling-stroke"/><path d="M3.5,6.3 C2.0,6.3 1.0,5.1 1.0,3.5 C1.0,1.8 2.0,0.7 3.5,0.7 C5.0,0.7 6.0,1.8 6.0,3.5 C6.0,5.1 5.0,6.3 3.5,6.3 C1.8,6.3 0.7,7.6 0.7,9.5 C0.7,11.5 1.8,12.8 3.5,12.8 C5.2,12.8 6.3,11.5 6.3,9.5 C6.3,7.6 5.2,6.3 3.5,6.3 Z" transform="translate(8.00,0)" vector-effect="non-scaling-stroke"/></g>
<g transform="translate(293.00,719.50) scale(0.9667,0.9259)" fill="none" stroke="#111" stroke-width="1.45" stroke-linecap="round" stroke-linejoin="round" vector-effect="non-scaling-stroke"><path d="M0.8,3.6 C0.8,1.7 2.0,0.7 3.5,0.7 C5.1,0.7 6.2,1.8 6.2,3.5 C6.2,5.3 5.0,6.6 3.6,8.1 L0.8,12.75 L6.4,12.75" transform="translate(0.00,0)" vector-effect="non-scaling-stroke"/><path d="M1.0,10.5 C1.3,12.0 2.2,12.8 3.4,12.8 C5.2,12.8 6.3,10.6 6.3,6.7 C6.3,2.7 5.2,0.7 3.4,0.7 C1.7,0.7 0.7,2.3 0.7,4.5 C0.7,6.6 1.8,8.1 3.4,8.1 C4.8,8.1 6.0,6.9 6.3,5.3" transform="translate(8.00,0)" vector-effect="non-scaling-stroke"/></g>
<g transform="translate(748.00,457.70) scale(1.1029,0.9852)" fill="none" stroke="#111" stroke-width="1.45" stroke-linecap="round" stroke-linejoin="round" vector-effect="non-scaling-stroke"><path d="M0.7,3.9 Q2.3,2.6 3.1,0.7 L3.1,12.8" transform="translate(0.00,0)" vector-effect="non-scaling-stroke"/><path d="M5.0,12.8 L5.0,0.7 L0.6,9.3 L6.6,9.3" transform="translate(6.40,0)" vector-effect="non-scaling-stroke"/></g>
<g transform="translate(658.00,575.00) scale(1.1000,1.0074)" fill="none" stroke="#111" stroke-width="1.45" stroke-linecap="round" stroke-linejoin="round" vector-effect="non-scaling-stroke"><path d="M0.9,3.1 C1.2,1.5 2.2,0.7 3.5,0.7 C5.1,0.7 6.0,1.8 6.0,3.3 C6.0,5.0 4.8,6.2 3.0,6.2 C5.0,6.2 6.3,7.5 6.3,9.4 C6.3,11.5 5.0,12.8 3.4,12.8 C1.9,12.8 0.9,11.9 0.7,10.3" transform="translate(0.00,0)" vector-effect="non-scaling-stroke"/><path d="M0.9,3.1 C1.2,1.5 2.2,0.7 3.5,0.7 C5.1,0.7 6.0,1.8 6.0,3.3 C6.0,5.0 4.8,6.2 3.0,6.2 C5.0,6.2 6.3,7.5 6.3,9.4 C6.3,11.5 5.0,12.8 3.4,12.8 C1.9,12.8 0.9,11.9 0.7,10.3" transform="translate(8.00,0)" vector-effect="non-scaling-stroke"/></g>
<g transform="translate(729.00,594.00) scale(1.0855,1.0148)" fill="none" stroke="#111" stroke-width="1.45" stroke-linecap="round" stroke-linejoin="round" vector-effect="non-scaling-stroke"><path d="M0.9,3.1 C1.2,1.5 2.2,0.7 3.5,0.7 C5.1,0.7 6.0,1.8 6.0,3.3 C6.0,5.0 4.8,6.2 3.0,6.2 C5.0,6.2 6.3,7.5 6.3,9.4 C6.3,11.5 5.0,12.8 3.4,12.8 C1.9,12.8 0.9,11.9 0.7,10.3" transform="translate(0.00,0)" vector-effect="non-scaling-stroke"/><path d="M5.0,12.8 L5.0,0.7 L0.6,9.3 L6.6,9.3" transform="translate(8.00,0)" vector-effect="non-scaling-stroke"/></g>
<g transform="translate(641.50,667.00) scale(1.0600,0.9630)" fill="none" stroke="#111" stroke-width="1.45" stroke-linecap="round" stroke-linejoin="round" vector-effect="non-scaling-stroke"><path d="M0.9,3.1 C1.2,1.5 2.2,0.7 3.5,0.7 C5.1,0.7 6.0,1.8 6.0,3.3 C6.0,5.0 4.8,6.2 3.0,6.2 C5.0,6.2 6.3,7.5 6.3,9.4 C6.3,11.5 5.0,12.8 3.4,12.8 C1.9,12.8 0.9,11.9 0.7,10.3" transform="translate(0.00,0)" vector-effect="non-scaling-stroke"/><path d="M0.8,3.6 C0.8,1.7 2.0,0.7 3.5,0.7 C5.1,0.7 6.2,1.8 6.2,3.5 C6.2,5.3 5.0,6.6 3.6,8.1 L0.8,12.75 L6.4,12.75" transform="translate(8.00,0)" vector-effect="non-scaling-stroke"/></g>
<g transform="translate(610.00,723.50) scale(1.2203,0.9704)" fill="none" stroke="#111" stroke-width="1.45" stroke-linecap="round" stroke-linejoin="round" vector-effect="non-scaling-stroke"><path d="M0.9,3.1 C1.2,1.5 2.2,0.7 3.5,0.7 C5.1,0.7 6.0,1.8 6.0,3.3 C6.0,5.0 4.8,6.2 3.0,6.2 C5.0,6.2 6.3,7.5 6.3,9.4 C6.3,11.5 5.0,12.8 3.4,12.8 C1.9,12.8 0.9,11.9 0.7,10.3" transform="translate(0.00,0)" vector-effect="non-scaling-stroke"/><path d="M0.7,3.9 Q2.3,2.6 3.1,0.7 L3.1,12.8" transform="translate(8.00,0)" vector-effect="non-scaling-stroke"/></g>
<g transform="translate(569.00,724.00) scale(1.1429,1.0000)" fill="none" stroke="#111" stroke-width="1.45" stroke-linecap="round" stroke-linejoin="round" vector-effect="non-scaling-stroke"><path d="M3.5,6.3 C2.0,6.3 1.0,5.1 1.0,3.5 C1.0,1.8 2.0,0.7 3.5,0.7 C5.0,0.7 6.0,1.8 6.0,3.5 C6.0,5.1 5.0,6.3 3.5,6.3 C1.8,6.3 0.7,7.6 0.7,9.5 C0.7,11.5 1.8,12.8 3.5,12.8 C5.2,12.8 6.3,11.5 6.3,9.5 C6.3,7.6 5.2,6.3 3.5,6.3 Z" transform="translate(0.00,0)" vector-effect="non-scaling-stroke"/></g>
<g transform="translate(569.00,745.00) scale(1.1429,1.0000)" fill="none" stroke="#111" stroke-width="1.45" stroke-linecap="round" stroke-linejoin="round" vector-effect="non-scaling-stroke"><path d="M0.7,0.75 L6.3,0.75 C4.3,3.5 2.8,7.5 2.5,12.8" transform="translate(0.00,0)" vector-effect="non-scaling-stroke"/></g>
<g transform="translate(569.00,768.00) scale(1.1429,1.0000)" fill="none" stroke="#111" stroke-width="1.45" stroke-linecap="round" stroke-linejoin="round" vector-effect="non-scaling-stroke"><path d="M6.0,3.0 C5.7,1.5 4.8,0.7 3.6,0.7 C1.8,0.7 0.7,2.9 0.7,6.8 C0.7,10.8 1.8,12.8 3.6,12.8 C5.3,12.8 6.3,11.2 6.3,9.0 C6.3,6.9 5.2,5.4 3.6,5.4 C2.2,5.4 1.0,6.6 0.7,8.2" transform="translate(0.00,0)" vector-effect="non-scaling-stroke"/></g>
<g transform="translate(568.60,797.00) scale(1.1714,1.0000)" fill="none" stroke="#111" stroke-width="1.45" stroke-linecap="round" stroke-linejoin="round" vector-effect="non-scaling-stroke"><path d="M6.0,0.7 L1.5,0.7 L0.9,6.4 C1.5,5.6 2.4,5.2 3.4,5.2 C5.2,5.2 6.3,6.8 6.3,8.9 C6.3,11.2 5.0,12.8 3.3,12.8 C1.9,12.8 0.9,11.9 0.7,10.5" transform="translate(0.00,0)" vector-effect="non-scaling-stroke"/></g>
<g transform="translate(568.60,814.00) scale(1.1714,0.9630)" fill="none" stroke="#111" stroke-width="1.45" stroke-linecap="round" stroke-linejoin="round" vector-effect="non-scaling-stroke"><path d="M0.8,3.6 C0.8,1.7 2.0,0.7 3.5,0.7 C5.1,0.7 6.2,1.8 6.2,3.5 C6.2,5.3 5.0,6.6 3.6,8.1 L0.8,12.75 L6.4,12.75" transform="translate(0.00,0)" vector-effect="non-scaling-stroke"/></g>
<g transform="translate(564.50,831.00) scale(1.1022,0.9333)" fill="none" stroke="#111" stroke-width="1.45" stroke-linecap="round" stroke-linejoin="round" vector-effect="non-scaling-stroke"><path d="M0.7,3.9 Q2.3,2.6 3.1,0.7 L3.1,12.8" transform="translate(0.00,0)" vector-effect="non-scaling-stroke"/><path d="M0.4,6.9 L7.0,6.9" transform="translate(5.60,0)" vector-effect="non-scaling-stroke"/><path d="M0.7,3.9 Q2.3,2.6 3.1,0.7 L3.1,12.8" transform="translate(14.80,0)" vector-effect="non-scaling-stroke"/></g>
<g transform="translate(470.50,791.00) scale(1.0000,1.0370)" fill="none" stroke="#111" stroke-width="1.45" stroke-linecap="round" stroke-linejoin="round" vector-effect="non-scaling-stroke"><path d="M0.9,3.1 C1.2,1.5 2.2,0.7 3.5,0.7 C5.1,0.7 6.0,1.8 6.0,3.3 C6.0,5.0 4.8,6.2 3.0,6.2 C5.0,6.2 6.3,7.5 6.3,9.4 C6.3,11.5 5.0,12.8 3.4,12.8 C1.9,12.8 0.9,11.9 0.7,10.3" transform="translate(0.00,0)" vector-effect="non-scaling-stroke"/><path d="M3.5,0.7 C5.3,0.7 6.3,3.0 6.3,6.75 C6.3,10.5 5.3,12.8 3.5,12.8 C1.7,12.8 0.7,10.5 0.7,6.75 C0.7,3.0 1.7,0.7 3.5,0.7 Z" transform="translate(8.00,0)" vector-effect="non-scaling-stroke"/></g>
<g opacity="0.995">
<text transform="translate(913.09,504.00) scale(1.0917,1)" font-size="14.394" font-family="Liberation Serif" fill="#4a4a4a">1</text>
<text transform="translate(909.88,519.00) scale(1.1344,1)" font-size="12.121" font-family="Liberation Serif" fill="#4a4a4a">2</text>
<text transform="translate(907.05,532.58) scale(1.0562,1)" font-size="12.239" font-family="Liberation Serif" fill="#4a4a4a">3</text>
<text transform="translate(902.94,551.85) scale(0.8824,1)" font-size="14.925" font-family="Liberation Serif" fill="#4a4a4a">3</text>
<text transform="translate(899.26,569.50) scale(0.9184,1)" font-size="12.879" font-family="Liberation Serif" fill="#4a4a4a">4</text>
<text transform="translate(890.29,600.85) scale(0.9478,1)" font-size="14.925" font-family="Liberation Serif" fill="#4a4a4a">3</text>
<text transform="translate(883.67,625.37) scale(1.0757,1)" font-size="12.782" font-family="Liberation Serif" fill="#4a4a4a">5</text>
<text transform="translate(874.43,672.86) scale(0.9056,1)" font-size="14.030" font-family="Liberation Serif" fill="#4a4a4a">6</text>
<text transform="translate(867.15,693.46) scale(1.1916,1)" font-size="14.328" font-family="Liberation Serif" fill="#4a4a4a">3</text>
<text transform="translate(859.68,727.00) scale(0.9165,1)" font-size="13.740" font-family="Liberation Serif" fill="#4a4a4a">7</text>
<text transform="translate(670.62,777.88) scale(0.8036,1)" font-size="11.852" font-family="Liberation Serif" fill="#4a4a4a">8</text>
<text transform="translate(653.42,843.89) scale(1.1561,1)" font-size="11.194" font-family="Liberation Serif" fill="#4a4a4a">6</text>
<text transform="translate(650.23,857.89) scale(0.8102,1)" font-size="11.194" font-family="Liberation Serif" fill="#4a4a4a">9</text>
<text transform="translate(644.89,875.87) scale(0.9079,1)" font-size="13.433" font-family="Liberation Serif" fill="#4a4a4a">3</text>
<text transform="translate(634.97,908.88) scale(0.9698,1)" font-size="11.852" font-family="Liberation Serif" fill="#4a4a4a">10</text>
<text transform="translate(622.01,962.00) scale(0.9110,1)" font-size="12.121" font-family="Liberation Serif" fill="#4a4a4a">11</text>
<text transform="translate(617.39,981.00) scale(0.9263,1)" font-size="12.121" font-family="Liberation Serif" fill="#4a4a4a">12</text>
<text transform="translate(614.07,997.88) scale(0.8664,1)" font-size="11.940" font-family="Liberation Serif" fill="#4a4a4a">13</text>
<text transform="translate(608.99,1016.00) scale(0.9218,1)" font-size="12.121" font-family="Liberation Serif" fill="#4a4a4a">14</text>
<text transform="translate(605.07,1034.88) scale(0.8664,1)" font-size="11.940" font-family="Liberation Serif" fill="#4a4a4a">15</text>
<text transform="translate(600.08,1058.88) scale(0.8565,1)" font-size="11.940" font-family="Liberation Serif" fill="#4a4a4a">16</text>
</g>
</svg></body></html>
